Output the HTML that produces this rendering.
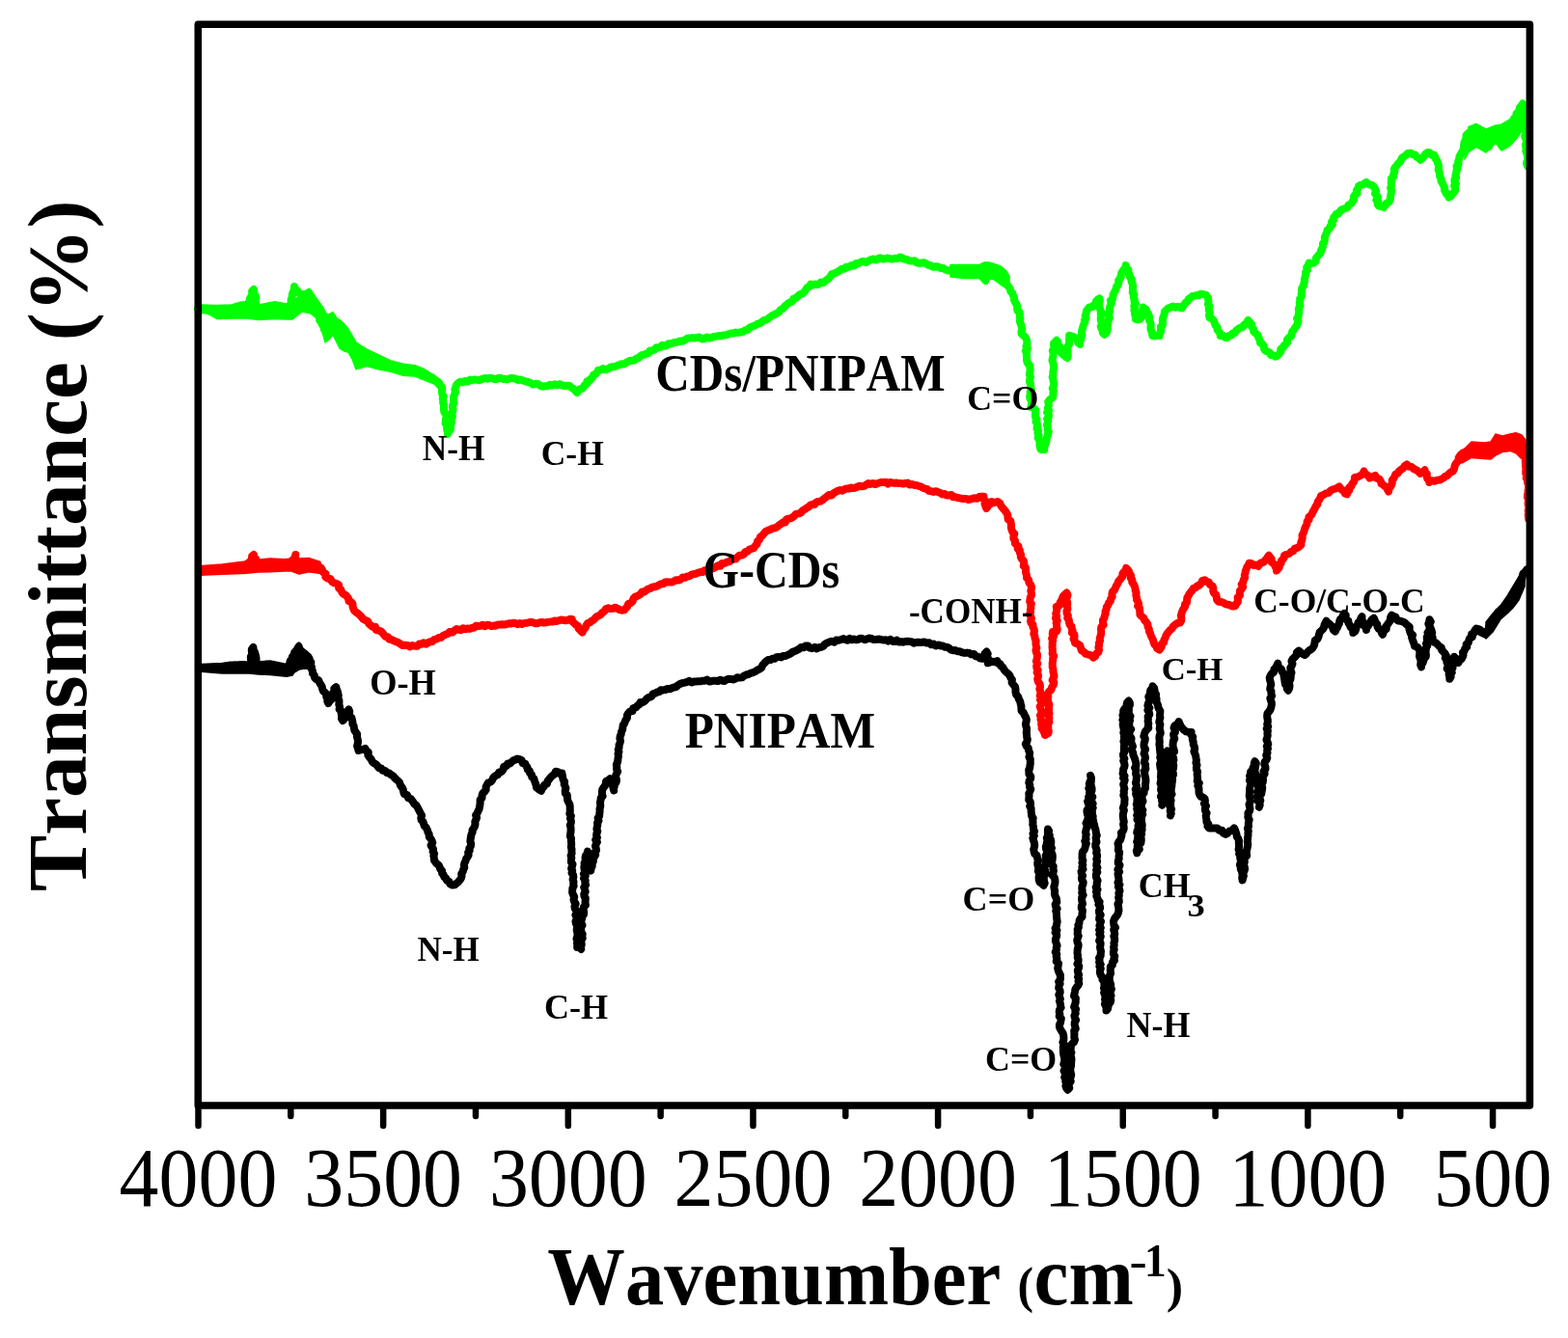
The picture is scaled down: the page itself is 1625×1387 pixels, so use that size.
<!DOCTYPE html>
<html><head><meta charset="utf-8"><title>FTIR spectra</title>
<style>html,body{margin:0;padding:0;background:#fff;} svg{display:block;}</style></head>
<body><svg width="1625" height="1387" viewBox="0 0 1625 1387">
<rect width="1625" height="1387" fill="#fff"/>

<path d="M985.0,274.5 L1000.0,274.4 L1015.0,274.4 L1020.0,272.0 L1025.0,272.0 L1030.0,273.4 L1037.0,276.0 L1042.0,280.0 L1046.0,286.0 L1046.0,300.0 L1042.0,298.0 L1037.0,295.0 L1030.0,289.6 L1026.0,289.0 L1023.0,294.5 L1020.0,294.0 L1015.0,288.6 L1000.0,288.6 L985.0,287.0 Z" fill="#00ff00" stroke="#00ff00" stroke-width="1.5" stroke-linejoin="round"/><path d="M328.0,314.0 L333.0,318.0 L337.0,325.0 L341.0,326.0 L345.0,323.6 L349.0,330.0 L352.0,331.6 L357.0,336.0 L361.0,341.2 L365.0,348.0 L369.0,354.8 L375.0,359.0 L380.0,362.0 L392.0,367.6 L405.0,374.0 L418.0,377.2 L430.0,378.8 L440.0,382.8 L450.0,389.2 L454.0,393.0 L454.0,402.0 L450.0,398.0 L440.0,394.0 L430.0,390.0 L418.0,389.2 L405.0,385.2 L392.0,382.8 L380.0,379.6 L375.0,381.0 L369.0,382.8 L365.0,372.0 L361.0,365.2 L357.0,364.0 L352.0,361.0 L349.0,355.0 L345.0,346.8 L341.0,352.0 L337.0,354.8 L333.0,340.0 L328.0,333.0 Z" fill="#00ff00" stroke="#00ff00" stroke-width="1.5" stroke-linejoin="round"/><path d="M207.0,316.0 L225.0,316.4 L240.0,316.0 L250.0,313.0 L256.0,313.0 L268.0,316.0 L285.0,312.7 L297.0,315.0 L303.0,313.0 L313.0,304.0 L322.0,302.5 L327.0,308.0 L335.0,319.0 L338.0,325.0 L338.0,333.0 L335.0,333.7 L327.0,329.0 L322.0,325.0 L313.0,323.0 L303.0,331.0 L297.0,331.0 L285.0,330.4 L268.0,331.5 L256.0,330.0 L250.0,330.0 L240.0,330.0 L225.0,330.5 L215.0,324.5 L207.0,324.5 Z" fill="#00ff00" stroke="#00ff00" stroke-width="1.5" stroke-linejoin="round"/><path d="M1518.0,150.0 L1522.0,131.5 L1530.0,128.3 L1540.0,134.0 L1550.0,130.0 L1556.0,129.0 L1565.0,123.7 L1572.0,114.7 L1578.0,103.6 L1578.0,134.0 L1572.0,143.0 L1565.0,151.0 L1556.0,156.0 L1550.0,148.0 L1540.0,158.0 L1530.0,152.3 L1522.0,157.5 L1518.0,165.0 Z" fill="#00ff00" stroke="#00ff00" stroke-width="1.5" stroke-linejoin="round"/><path d="M205.0,320.4 L207.6,320.2 L210.0,321.2 L212.5,321.2 L215.0,321.8 L217.4,322.7 L219.9,323.5 L222.8,323.1 L225.0,324.7 L227.3,323.2 L230.1,324.5 L232.4,322.7 L234.9,322.2 L237.7,323.4 L240.0,321.8 L242.5,321.5 L245.1,322.1 L247.5,321.1 L250.0,321.0 L252.2,319.6 L253.5,317.1 L256.0,316.0 L257.3,313.8 L258.7,311.8 L259.0,309.2 L260.5,307.1 L261.3,304.7 L261.1,301.9 L263.0,300.0 L262.8,302.3 L263.6,304.5 L264.6,306.7 L265.5,308.8 L264.1,311.4 L265.3,313.5 L265.2,315.8 L266.0,318.0 L267.3,321.0 L270.0,323.0 L272.2,322.2 L274.5,321.4 L275.9,319.2 L278.3,318.8 L280.0,317.0 L282.5,317.6 L284.7,319.4 L287.3,320.0 L290.0,320.0 L292.5,319.1 L295.0,319.2 L297.5,319.4 L300.0,320.0 L301.5,317.9 L300.9,315.4 L301.8,313.2 L301.6,310.7 L302.5,308.5 L302.8,306.1 L303.2,303.8 L304.2,301.6 L304.7,299.3 L305.0,297.0 L306.1,299.6 L308.2,301.3 L309.5,303.6 L312.0,305.0 L314.9,305.1 L317.6,304.7 L320.0,303.0 L320.7,305.3 L322.7,307.0 L322.3,309.8 L323.1,312.0 L324.2,314.1 L325.9,315.9 L327.0,318.0 L327.9,320.2 L330.0,321.7 L330.1,324.4 L332.0,326.0 L332.5,328.2 L333.7,330.1 L334.8,332.1 L333.8,334.7 L334.1,336.9 L336.6,338.5 L335.7,341.1 L337.0,343.0 L338.2,340.6 L339.0,338.0 L341.0,336.0 L342.7,334.1 L345.0,333.0 L345.8,335.6 L347.0,338.1 L349.0,340.0 L350.9,342.3 L350.8,345.4 L352.0,348.0 L354.7,347.5 L357.0,349.0 L358.7,350.9 L361.0,352.0 L362.6,353.8 L363.0,356.5 L365.0,358.0 L364.6,360.6 L366.3,362.7 L365.9,365.3 L368.1,367.2 L369.2,369.4 L369.0,372.0 L371.1,371.2 L372.5,369.1 L375.0,369.0 L377.6,368.8 L380.0,370.0 L382.5,370.8 L384.7,372.2 L387.5,372.3 L390.0,373.1 L392.0,375.0 L393.9,376.5 L396.5,376.1 L398.2,378.3 L400.4,378.9 L402.9,378.6 L405.0,379.6 L407.2,380.1 L409.3,380.8 L411.4,381.6 L413.6,382.1 L415.8,382.6 L418.0,383.0 L420.4,383.5 L422.7,384.5 L425.2,383.9 L427.6,384.0 L430.0,384.4 L432.3,385.9 L435.2,385.9 L437.7,387.0 L440.0,388.4 L441.5,390.4 L444.0,390.5 L446.0,391.6 L448.5,391.6 L450.0,393.6 L452.6,394.9 L455.0,396.5 L455.8,399.1 L458.0,401.1 L458.0,404.0 L458.0,406.3 L458.2,408.5 L459.7,410.6 L458.7,413.0 L459.3,415.2 L459.1,417.5 L460.1,419.7 L460.0,422.0 L460.0,424.6 L460.3,427.1 L462.2,429.4 L462.6,431.9 L462.0,434.6 L461.9,436.8 L461.6,439.1 L463.4,441.1 L463.2,443.4 L463.2,445.6 L464.1,447.7 L464.0,450.0 L465.2,447.3 L467.0,445.0 L466.8,442.7 L467.2,440.5 L467.9,438.3 L467.5,436.0 L467.9,433.8 L469.0,431.7 L467.6,429.3 L469.0,427.2 L469.6,425.0 L468.9,422.6 L468.9,420.4 L470.4,418.3 L470.0,416.0 L469.9,413.5 L470.2,411.0 L471.1,408.7 L472.1,406.4 L471.3,403.7 L472.2,401.4 L473.0,399.0 L474.8,397.1 L477.0,395.8 L479.7,396.2 L482.2,394.9 L484.9,395.5 L487.3,393.6 L490.0,394.0 L492.2,393.4 L494.5,393.9 L496.7,394.2 L498.9,393.1 L501.1,392.4 L503.3,392.0 L505.6,392.7 L507.7,391.7 L510.0,392.2 L512.3,392.9 L514.5,393.1 L516.8,391.7 L519.1,391.9 L521.3,393.1 L523.6,392.8 L525.9,393.3 L528.2,392.3 L530.5,391.9 L532.7,392.3 L535.0,392.8 L537.0,394.0 L539.4,393.5 L541.5,394.3 L543.6,395.0 L545.8,395.6 L547.9,396.2 L550.0,397.0 L552.2,398.6 L555.2,397.8 L557.8,398.2 L560.0,400.0 L562.6,400.7 L565.1,400.3 L567.6,400.2 L570.0,398.7 L572.6,399.6 L575.0,398.3 L577.4,399.5 L580.1,398.2 L582.4,399.5 L584.9,400.0 L587.5,399.8 L590.0,399.7 L592.0,401.6 L594.3,403.0 L596.2,404.9 L598.0,407.0 L599.4,405.0 L600.9,403.3 L603.4,402.6 L605.0,401.0 L606.1,398.9 L608.4,397.9 L608.5,395.1 L611.4,394.5 L612.5,392.4 L614.3,391.0 L615.0,388.6 L617.3,387.6 L618.9,386.0 L620.0,383.7 L622.5,383.6 L624.9,382.0 L627.6,383.3 L630.0,382.5 L632.2,380.9 L634.8,380.2 L637.6,380.1 L640.0,378.8 L642.2,378.1 L644.2,377.2 L646.7,377.6 L648.6,376.2 L650.6,374.9 L652.7,374.0 L655.0,373.8 L657.5,373.5 L659.3,371.7 L661.7,371.2 L663.4,369.3 L665.4,368.0 L667.9,367.6 L670.0,366.5 L672.4,365.9 L673.6,363.4 L676.3,363.3 L678.5,362.3 L680.0,360.3 L682.3,360.4 L684.5,359.9 L686.2,357.7 L688.6,358.5 L690.9,358.4 L692.6,356.2 L695.0,356.6 L697.0,355.5 L699.1,354.9 L701.4,354.8 L703.5,354.0 L705.7,353.5 L708.0,353.5 L710.0,352.3 L712.3,350.8 L714.8,350.4 L717.4,350.1 L720.0,350.5 L722.5,349.7 L725.0,349.6 L727.5,351.5 L730.0,351.3 L732.5,349.6 L735.0,350.5 L737.5,350.0 L739.9,349.1 L742.4,348.6 L744.9,348.1 L747.6,348.2 L750.0,347.4 L752.5,347.2 L755.0,346.3 L757.4,345.5 L759.9,345.4 L762.4,344.6 L765.0,345.0 L767.5,344.3 L770.1,343.9 L772.4,342.3 L775.0,341.8 L776.5,339.8 L778.6,338.8 L780.9,337.9 L783.1,337.1 L785.0,335.7 L787.8,335.1 L790.0,333.3 L792.0,331.9 L794.6,331.4 L796.6,329.9 L798.5,328.3 L800.6,327.0 L802.9,326.0 L805.0,324.8 L807.3,323.4 L808.9,321.2 L811.3,320.0 L812.9,317.9 L815.0,316.2 L816.7,314.3 L819.0,313.3 L821.3,312.1 L822.4,309.5 L825.0,308.8 L826.9,307.0 L828.9,305.2 L831.5,304.3 L833.6,302.6 L835.0,300.2 L836.5,298.1 L839.0,297.0 L840.0,294.6 L842.3,295.4 L844.7,294.5 L847.0,295.2 L849.0,294.2 L850.7,292.6 L853.3,293.1 L855.0,291.5 L857.0,289.9 L859.1,288.4 L860.7,286.5 L862.0,284.2 L864.2,283.6 L866.2,282.8 L868.1,281.6 L870.0,280.5 L872.2,278.8 L875.1,278.8 L877.1,276.7 L880.0,276.8 L882.2,275.1 L885.2,275.5 L887.1,273.0 L890.0,273.0 L892.3,271.5 L894.8,270.9 L897.7,272.0 L900.0,270.6 L902.3,269.3 L904.8,268.4 L907.7,269.5 L910.0,268.2 L912.4,267.2 L915.1,268.6 L917.5,268.1 L920.0,267.5 L922.5,268.2 L925.0,268.5 L927.5,267.7 L930.0,268.2 L932.5,266.5 L935.0,267.5 L937.3,268.8 L940.0,269.1 L942.4,270.3 L945.0,270.6 L947.7,270.2 L949.9,272.1 L952.3,273.0 L955.0,272.5 L957.8,272.3 L960.1,273.6 L962.5,274.9 L965.0,275.5 L967.3,276.8 L970.1,276.2 L972.7,276.7 L975.0,278.0 L977.6,278.1 L979.9,279.5 L982.4,280.4 L985.0,280.5 L987.5,280.8 L990.0,281.5 L992.5,281.4 L995.0,281.7 L997.5,281.8 L1000.0,282.3 L1002.5,281.9 L1004.9,281.0 L1007.5,281.7 L1010.0,281.5 L1012.9,282.0 L1015.3,280.3 L1018.0,280.0 L1018.2,282.7 L1020.2,284.8 L1019.8,287.6 L1021.0,290.0 L1022.5,287.5 L1023.4,284.8 L1024.0,282.0 L1026.0,283.0 L1028.0,283.8 L1030.0,284.8 L1031.9,286.1 L1033.6,287.6 L1036.3,287.1 L1038.4,288.0 L1040.0,289.8 L1041.0,292.1 L1042.0,294.3 L1044.2,295.8 L1045.7,297.7 L1047.0,299.8 L1047.4,302.2 L1049.3,304.0 L1050.0,306.2 L1051.0,308.4 L1051.0,310.9 L1052.0,313.0 L1053.2,315.0 L1054.2,317.1 L1054.1,319.7 L1054.4,322.0 L1056.6,323.7 L1057.0,326.0 L1056.7,328.3 L1057.5,330.4 L1056.8,332.7 L1057.5,334.9 L1058.4,337.1 L1058.7,339.3 L1059.3,341.5 L1058.5,343.8 L1058.6,346.0 L1060.6,347.8 L1062.7,349.5 L1064.0,352.0 L1064.3,354.3 L1064.4,356.7 L1063.4,359.0 L1064.8,361.3 L1062.9,363.7 L1064.0,366.0 L1063.8,368.3 L1064.1,370.7 L1064.0,373.0 L1064.5,375.4 L1065.7,377.4 L1067.5,379.0 L1067.4,381.3 L1067.7,383.7 L1067.2,386.0 L1066.9,388.4 L1068.0,390.7 L1067.3,393.0 L1066.9,395.4 L1068.0,397.7 L1068.0,400.0 L1068.6,402.2 L1068.7,404.4 L1067.6,406.6 L1067.8,408.8 L1067.2,411.0 L1067.5,413.2 L1068.8,415.4 L1069.0,417.6 L1068.9,419.8 L1068.4,422.0 L1071.2,422.9 L1073.2,425.0 L1073.0,427.4 L1072.9,429.9 L1073.0,432.3 L1074.6,434.6 L1073.5,437.1 L1074.9,439.4 L1074.9,441.8 L1074.5,444.2 L1076.1,446.5 L1075.4,449.0 L1076.7,451.3 L1075.6,454.0 L1077.2,456.2 L1077.5,458.7 L1077.5,461.2 L1077.8,463.6 L1078.6,466.0 L1082.4,466.0 L1081.9,463.4 L1083.1,461.2 L1083.9,459.0 L1084.6,456.7 L1084.5,454.2 L1085.7,452.0 L1085.9,449.8 L1086.8,447.6 L1085.6,445.3 L1085.9,443.1 L1085.0,440.9 L1085.4,438.7 L1086.3,436.5 L1085.1,434.2 L1086.8,432.0 L1086.9,429.8 L1085.2,427.6 L1087.0,425.4 L1085.8,423.2 L1086.7,420.9 L1086.7,418.7 L1086.2,416.5 L1088.3,413.9 L1091.0,412.0 L1091.4,409.7 L1091.4,407.3 L1091.8,405.0 L1090.7,402.7 L1091.8,400.3 L1092.3,398.0 L1091.7,395.7 L1091.5,393.3 L1090.6,391.0 L1091.5,388.7 L1091.2,386.3 L1091.6,384.0 L1092.0,381.4 L1091.8,378.8 L1091.4,376.2 L1090.4,373.6 L1091.0,371.0 L1091.5,368.5 L1091.6,366.0 L1090.8,363.5 L1092.5,361.1 L1092.2,358.5 L1092.0,356.0 L1095.0,352.8 L1096.6,354.7 L1095.8,357.5 L1098.2,359.1 L1098.7,361.5 L1098.7,364.0 L1100.0,366.0 L1101.9,367.8 L1104.1,369.4 L1106.2,371.0 L1106.7,368.7 L1106.5,366.4 L1106.4,364.0 L1106.3,361.7 L1106.3,359.3 L1107.9,357.1 L1108.2,354.8 L1107.9,352.4 L1108.5,350.2 L1108.2,347.8 L1110.7,348.5 L1113.1,349.3 L1115.3,350.8 L1116.8,352.7 L1117.3,355.4 L1119.3,357.0 L1118.7,354.5 L1120.1,352.4 L1119.9,350.0 L1121.4,347.9 L1120.9,345.5 L1121.2,343.2 L1121.7,341.0 L1122.3,338.7 L1123.0,336.4 L1124.2,334.3 L1123.9,331.8 L1125.6,329.8 L1124.7,327.1 L1125.6,324.9 L1125.9,322.5 L1127.4,320.5 L1128.9,318.5 L1131.7,318.3 L1133.4,316.5 L1135.3,315.1 L1135.9,312.5 L1137.5,310.7 L1139.5,309.4 L1139.8,311.6 L1139.3,313.9 L1139.2,316.2 L1139.5,318.4 L1140.0,320.6 L1141.1,322.8 L1140.7,325.0 L1141.3,327.2 L1140.7,329.5 L1140.8,331.8 L1141.7,334.0 L1141.8,336.2 L1140.7,338.5 L1141.5,340.7 L1143.4,342.3 L1142.9,345.1 L1144.5,346.8 L1146.3,345.2 L1147.4,343.2 L1147.6,340.7 L1147.6,338.4 L1148.2,336.2 L1148.4,334.0 L1148.8,331.8 L1149.8,329.6 L1149.3,327.3 L1148.7,324.9 L1150.2,322.8 L1149.6,320.5 L1150.1,318.3 L1151.0,316.2 L1151.8,314.2 L1150.8,311.6 L1153.0,309.9 L1153.4,307.6 L1153.6,305.4 L1154.6,303.4 L1155.7,301.4 L1156.6,299.3 L1157.1,297.0 L1158.7,295.3 L1159.4,293.1 L1159.1,290.6 L1160.7,288.8 L1161.7,286.7 L1161.9,284.3 L1162.7,282.2 L1164.2,279.9 L1166.2,278.0 L1166.7,275.1 L1166.9,277.9 L1169.5,279.8 L1169.2,282.9 L1170.8,285.2 L1171.0,287.4 L1172.8,289.3 L1172.6,291.7 L1173.4,293.8 L1174.2,295.9 L1173.8,298.3 L1174.1,300.8 L1173.7,303.3 L1175.4,305.6 L1174.6,308.2 L1175.8,310.5 L1175.5,312.8 L1176.8,314.9 L1175.3,317.2 L1176.0,319.4 L1175.4,321.7 L1176.0,323.9 L1176.1,326.2 L1177.0,328.3 L1176.8,330.6 L1179.3,331.3 L1181.9,330.6 L1183.3,328.4 L1183.7,325.9 L1183.3,323.3 L1184.5,321.0 L1184.4,318.5 L1188.0,321.0 L1188.6,323.2 L1190.0,325.2 L1190.8,327.3 L1191.3,329.6 L1191.0,332.0 L1192.1,334.1 L1192.7,336.4 L1192.5,338.9 L1192.5,341.2 L1193.3,343.4 L1194.1,345.7 L1194.4,348.0 L1196.8,348.3 L1199.2,347.6 L1201.6,348.0 L1202.0,345.7 L1203.1,343.6 L1202.9,341.1 L1202.9,338.8 L1204.9,336.8 L1205.0,334.5 L1204.8,332.0 L1205.2,329.8 L1206.1,327.6 L1206.7,325.3 L1207.0,323.0 L1208.9,321.1 L1210.9,319.4 L1213.4,318.4 L1216.0,317.6 L1218.1,318.7 L1220.7,317.7 L1222.8,318.9 L1225.0,319.4 L1226.0,317.2 L1227.5,315.4 L1228.9,313.5 L1230.8,312.1 L1231.9,309.9 L1234.0,308.6 L1235.8,307.0 L1238.0,306.6 L1240.2,306.1 L1242.5,306.2 L1244.3,304.7 L1246.7,305.0 L1249.9,305.9 L1252.0,308.6 L1252.2,310.8 L1252.5,313.1 L1251.9,315.4 L1253.5,317.5 L1252.8,319.8 L1253.0,322.1 L1253.9,324.3 L1253.0,326.6 L1253.6,329.4 L1256.5,330.8 L1258.2,332.9 L1259.0,335.6 L1260.0,337.6 L1261.6,339.4 L1261.6,341.9 L1263.1,343.7 L1264.5,345.6 L1264.7,348.0 L1267.4,347.7 L1269.4,349.8 L1272.0,350.0 L1273.5,348.2 L1276.0,347.6 L1277.4,345.6 L1279.8,345.0 L1281.0,342.8 L1283.1,341.1 L1285.4,339.8 L1288.0,339.0 L1289.0,336.9 L1291.3,335.9 L1292.3,333.9 L1293.5,332.0 L1295.2,334.1 L1297.0,336.0 L1297.3,339.0 L1299.0,341.0 L1299.1,343.5 L1300.8,345.2 L1303.0,346.7 L1303.9,348.8 L1304.8,350.9 L1305.7,353.0 L1306.0,355.4 L1308.2,356.6 L1309.6,358.4 L1309.9,361.0 L1310.9,363.1 L1313.0,364.4 L1315.6,365.2 L1317.0,368.0 L1319.8,368.4 L1322.0,369.8 L1324.0,368.4 L1325.7,366.8 L1327.2,365.0 L1327.2,361.9 L1329.5,360.8 L1330.4,358.5 L1332.3,356.8 L1334.2,355.1 L1333.9,352.1 L1335.5,350.3 L1337.9,348.9 L1338.5,346.4 L1339.2,343.7 L1341.0,341.8 L1342.3,339.5 L1344.0,337.4 L1344.7,335.1 L1345.5,332.8 L1344.1,330.3 L1345.6,328.1 L1345.8,325.7 L1346.3,323.4 L1345.8,321.0 L1346.3,318.8 L1347.5,316.7 L1346.7,314.2 L1347.2,312.0 L1347.2,309.6 L1348.8,307.6 L1348.6,305.2 L1349.0,303.0 L1349.0,300.6 L1349.3,298.3 L1351.0,296.4 L1351.2,294.1 L1352.0,291.9 L1351.8,289.4 L1352.5,287.2 L1353.0,285.0 L1353.0,282.3 L1354.9,280.1 L1354.2,277.2 L1355.8,275.0 L1356.6,272.5 L1359.3,273.1 L1362.0,272.5 L1363.7,270.5 L1363.9,267.5 L1365.6,265.5 L1367.4,263.5 L1368.8,261.6 L1369.1,259.3 L1370.3,257.3 L1371.1,255.2 L1370.9,252.7 L1372.5,250.9 L1372.9,248.6 L1372.8,246.2 L1373.6,244.1 L1374.6,242.0 L1375.5,238.8 L1378.0,236.5 L1378.7,234.3 L1380.8,232.7 L1380.0,229.9 L1381.9,228.2 L1381.9,225.7 L1383.6,224.0 L1384.8,221.8 L1387.4,221.3 L1388.6,219.2 L1390.2,217.4 L1392.6,216.7 L1396.5,215.0 L1397.5,212.5 L1400.0,211.2 L1401.5,209.1 L1403.0,207.0 L1402.8,204.3 L1404.1,202.1 L1406.5,200.3 L1405.8,197.5 L1407.3,195.4 L1408.0,193.0 L1409.9,191.8 L1412.3,191.6 L1414.1,190.2 L1416.0,189.0 L1417.7,190.8 L1420.0,191.6 L1422.4,192.2 L1424.0,194.0 L1425.2,196.0 L1426.0,198.1 L1425.0,200.7 L1427.0,202.5 L1427.8,204.7 L1426.3,207.4 L1428.5,209.2 L1427.6,211.7 L1429.0,213.7 L1431.7,213.5 L1434.0,215.0 L1435.6,213.0 L1436.8,210.6 L1439.5,209.5 L1440.6,207.0 L1441.0,204.6 L1441.3,202.2 L1441.7,199.8 L1442.1,197.4 L1441.1,194.9 L1441.9,192.5 L1441.7,190.1 L1442.0,187.7 L1441.8,185.1 L1444.0,183.1 L1444.2,180.6 L1445.3,178.4 L1444.7,175.6 L1446.0,173.4 L1447.6,171.5 L1448.9,169.5 L1450.9,167.9 L1452.0,165.7 L1453.1,163.4 L1455.3,162.1 L1457.2,160.7 L1459.0,159.0 L1461.7,158.6 L1464.0,160.1 L1466.6,160.5 L1468.0,162.6 L1470.3,163.8 L1472.0,165.7 L1474.1,164.0 L1475.9,162.0 L1477.2,159.5 L1479.5,158.0 L1481.8,158.5 L1483.4,160.7 L1486.0,160.5 L1487.2,162.5 L1487.8,164.7 L1489.4,166.6 L1489.9,168.9 L1490.9,171.0 L1491.0,173.4 L1490.6,176.0 L1491.7,178.3 L1491.9,180.7 L1492.2,183.1 L1493.6,185.3 L1493.5,187.9 L1495.0,190.0 L1495.9,192.1 L1497.0,194.1 L1496.9,196.7 L1498.0,198.7 L1498.8,200.8 L1500.7,202.5 L1501.6,204.6 L1503.8,203.3 L1504.9,201.0 L1506.8,199.4 L1508.1,197.3 L1508.2,195.1 L1507.1,192.7 L1508.8,190.7 L1507.4,188.3 L1507.5,186.0 L1509.1,184.0 L1508.4,181.7 L1509.2,179.5 L1509.4,177.3 L1510.3,175.0 L1509.5,172.3 L1511.6,170.2 L1511.1,167.6 L1512.0,165.3 L1512.4,162.8 L1513.3,160.5 L1515.0,158.1 L1516.3,155.5 L1517.0,152.7 L1517.2,150.2 L1517.5,147.7 L1518.6,145.4 L1519.5,143.1 L1519.4,140.5 L1521.0,138.4 L1524.0,139.7 L1526.0,142.3 L1527.8,140.0 L1529.1,137.3 L1530.0,134.5 L1530.4,137.0 L1531.6,139.0 L1533.1,140.8 L1535.0,142.3 L1536.8,144.1 L1538.8,145.7 L1540.1,147.9 L1541.5,150.0 L1543.0,152.0 L1543.8,149.7 L1544.5,147.4 L1544.8,145.0 L1546.6,143.0 L1546.1,140.3 L1547.2,138.1 L1548.0,135.8 L1550.6,137.2 L1553.5,137.0 L1553.5,139.4 L1555.2,141.2 L1556.0,143.3 L1555.5,145.9 L1557.8,147.5 L1557.4,150.0 L1557.5,147.5 L1559.1,145.5 L1559.9,143.3 L1560.0,140.7 L1560.6,138.4 L1561.7,136.3 L1563.7,134.5 L1564.0,132.0 L1565.2,129.7 L1567.4,127.9 L1568.3,125.4 L1569.0,122.8 L1571.5,121.3 L1571.5,117.8 L1574.0,116.3 L1574.4,113.8 L1575.0,111.4 L1576.9,109.5 L1578.0,107.3 L1578.6,109.5 L1579.4,111.6 L1578.5,114.0 L1579.7,116.1 L1579.5,118.4 L1579.8,120.6 L1578.8,122.9 L1579.9,125.1 L1580.5,127.2 L1581.1,129.4 L1580.5,131.7 L1580.3,134.0 L1580.4,136.2 L1581.0,138.4 L1580.2,140.7 L1580.6,142.9 L1582.0,145.1 L1582.3,147.3 L1581.1,149.6 L1581.2,151.9 L1581.9,154.1 L1581.3,156.4 L1582.1,158.6 L1582.8,160.8 L1583.2,163.0 L1583.7,165.2 L1582.4,167.5 L1582.0,169.8 L1583.0,172.0" fill="none" stroke="#00ff00" stroke-width="8.0" stroke-linejoin="round" stroke-linecap="round"/>
<path d="M207.0,586.7 L230.0,585.0 L250.0,582.4 L258.0,582.0 L268.0,580.0 L280.0,579.0 L295.0,579.8 L302.0,579.0 L310.0,579.0 L320.0,578.5 L332.0,582.4 L332.0,594.5 L320.0,592.7 L310.0,595.0 L302.0,592.0 L295.0,591.9 L280.0,592.7 L268.0,593.0 L258.0,594.0 L250.0,594.5 L230.0,595.3 L207.0,596.2 Z" fill="#ff0000" stroke="#ff0000" stroke-width="1.5" stroke-linejoin="round"/><path d="M1515.0,468.0 L1525.0,458.0 L1538.0,459.0 L1545.0,458.0 L1550.0,450.0 L1557.0,452.0 L1565.0,450.0 L1571.0,448.7 L1577.0,451.0 L1581.0,456.0 L1581.0,478.0 L1577.0,475.6 L1571.0,469.8 L1565.0,467.4 L1557.0,468.6 L1550.0,472.0 L1545.0,476.0 L1538.0,475.6 L1525.0,474.4 L1515.0,480.0 Z" fill="#ff0000" stroke="#ff0000" stroke-width="1.5" stroke-linejoin="round"/><path d="M206.8,591.4 L209.1,591.6 L211.3,591.7 L213.6,591.7 L215.8,592.0 L218.1,591.4 L220.3,590.8 L222.7,591.5 L224.7,589.3 L227.1,590.0 L229.4,590.8 L231.6,590.0 L233.9,590.3 L236.0,588.3 L238.3,588.9 L240.6,588.7 L242.8,587.8 L245.1,588.1 L247.4,587.9 L249.5,586.3 L251.8,586.4 L254.2,586.7 L255.8,584.5 L258.0,583.0 L260.0,581.5 L261.0,579.3 L261.1,576.6 L263.0,575.0 L263.0,577.4 L265.1,579.2 L264.7,581.7 L266.4,583.6 L266.3,586.0 L268.6,584.7 L271.3,586.3 L273.6,584.6 L276.0,584.3 L278.5,584.7 L280.8,585.8 L283.2,585.5 L285.5,584.2 L287.8,585.7 L290.1,584.8 L292.5,585.1 L294.8,584.7 L297.0,583.2 L299.9,583.8 L302.0,582.0 L303.8,579.9 L305.7,577.9 L306.3,575.0 L305.6,577.6 L307.1,580.0 L307.2,582.5 L307.8,584.9 L308.1,587.4 L307.5,590.0 L308.9,588.1 L311.1,587.4 L313.4,586.8 L314.6,584.6 L317.3,584.8 L319.0,583.3 L321.4,583.9 L323.7,584.7 L325.6,586.7 L328.1,586.9 L330.6,587.4 L332.7,588.7 L334.1,590.9 L335.0,593.3 L337.6,594.7 L337.3,598.0 L339.5,599.6 L342.4,600.0 L344.0,602.8 L346.3,604.3 L349.0,605.0 L351.2,606.6 L351.1,609.7 L353.3,611.3 L354.2,613.7 L355.7,615.8 L358.1,616.7 L359.6,618.4 L361.1,620.2 L361.5,623.1 L363.8,624.0 L365.5,625.9 L365.5,628.6 L366.2,630.9 L367.3,633.1 L369.2,634.8 L371.3,636.2 L373.2,637.8 L374.9,639.8 L376.4,641.8 L378.7,643.0 L381.2,643.9 L382.2,646.5 L384.1,648.1 L386.0,649.7 L389.0,649.8 L389.8,652.9 L392.3,653.7 L394.7,654.3 L396.4,656.1 L397.9,658.0 L399.5,659.9 L402.1,660.2 L403.3,662.6 L405.8,663.2 L407.9,664.2 L410.0,665.0 L412.5,666.0 L414.7,667.3 L416.8,669.0 L419.7,668.8 L422.4,669.0 L425.0,670.4 L427.2,669.1 L429.9,669.7 L432.4,669.8 L434.4,667.5 L437.0,667.7 L439.0,666.2 L441.7,667.7 L443.6,666.2 L445.8,665.3 L448.0,665.0 L449.9,663.2 L452.6,662.5 L454.7,661.0 L457.3,660.7 L459.3,658.9 L461.6,657.8 L464.0,657.0 L465.9,655.0 L469.1,655.5 L471.0,653.5 L473.1,652.1 L475.5,652.8 L477.9,653.2 L479.9,651.3 L482.3,652.3 L484.5,651.4 L486.9,651.9 L489.1,650.8 L491.4,650.7 L493.3,648.8 L495.7,649.0 L498.0,648.7 L500.2,647.8 L502.6,649.2 L504.7,647.8 L507.0,648.0 L509.3,649.1 L511.6,648.6 L513.9,648.7 L516.0,647.4 L518.3,647.4 L520.6,647.2 L522.8,647.6 L525.1,646.9 L527.3,646.3 L529.6,646.4 L531.8,645.7 L534.1,646.0 L536.4,647.2 L538.6,646.0 L540.9,646.9 L543.1,646.1 L545.4,645.8 L547.7,645.4 L549.9,644.8 L552.2,645.1 L554.5,646.2 L556.8,646.3 L559.0,645.4 L561.2,644.9 L563.5,645.6 L565.7,645.3 L567.9,644.9 L570.1,644.6 L572.4,644.6 L574.5,643.5 L576.8,644.0 L579.0,643.3 L581.3,642.6 L583.6,642.8 L586.0,643.2 L588.2,642.9 L590.5,641.8 L592.8,642.0 L593.3,644.4 L595.2,646.0 L596.7,647.7 L599.0,648.9 L599.5,651.4 L601.5,653.5 L603.6,655.5 L604.5,652.9 L606.6,650.9 L607.6,648.3 L609.0,646.0 L611.4,645.2 L613.2,643.6 L615.4,642.5 L617.0,640.6 L618.5,639.0 L620.7,638.2 L622.6,637.0 L624.0,635.2 L626.5,633.6 L628.0,631.0 L630.4,630.3 L632.9,631.1 L635.3,630.8 L637.6,629.7 L639.8,630.8 L642.0,632.1 L644.4,632.7 L647.0,632.4 L648.6,630.5 L650.2,628.6 L651.1,626.1 L653.9,625.1 L655.6,623.3 L656.4,620.7 L658.0,618.8 L660.1,618.0 L662.1,616.9 L664.0,615.8 L665.3,613.6 L667.9,613.5 L669.6,612.0 L671.4,610.7 L673.8,610.1 L675.9,608.7 L678.3,608.3 L680.7,607.7 L682.8,606.5 L685.0,605.3 L687.3,605.3 L689.3,603.4 L691.6,603.2 L694.0,603.4 L696.3,603.4 L698.5,602.6 L700.6,601.2 L703.3,601.4 L705.6,600.6 L707.5,598.6 L710.1,598.7 L712.3,597.4 L714.8,597.2 L716.8,595.6 L719.1,595.0 L721.4,594.7 L723.6,593.7 L725.8,593.1 L728.3,593.0 L730.2,591.2 L732.8,591.2 L735.0,590.1 L737.5,589.7 L739.7,588.8 L741.9,587.7 L743.9,586.3 L746.7,586.7 L748.2,584.0 L750.8,583.9 L753.0,582.7 L755.4,582.3 L757.6,581.0 L759.6,579.3 L762.5,579.6 L764.3,577.5 L766.3,575.7 L769.0,575.5 L771.1,574.3 L772.3,572.1 L774.8,571.5 L776.5,569.8 L778.7,568.9 L781.2,568.2 L782.5,566.0 L784.5,564.0 L785.0,561.2 L787.1,559.3 L787.9,556.6 L790.1,555.1 L791.8,553.0 L793.5,550.9 L796.0,549.8 L798.3,548.9 L800.6,547.7 L803.2,547.3 L805.5,546.2 L807.4,544.3 L809.5,543.0 L811.3,541.6 L813.8,541.5 L814.7,538.6 L816.8,537.7 L819.2,537.4 L821.2,536.4 L823.0,535.0 L824.8,532.9 L827.6,532.4 L830.1,531.5 L831.7,529.2 L834.0,528.0 L835.9,526.6 L838.0,525.5 L839.6,523.9 L841.6,522.9 L844.3,523.1 L845.5,520.9 L847.6,520.0 L850.4,519.6 L852.7,518.1 L854.8,516.2 L857.0,514.7 L859.0,513.1 L862.0,513.4 L863.8,511.3 L866.0,510.1 L868.2,508.8 L870.6,508.0 L873.0,508.7 L875.1,507.3 L877.2,506.5 L879.5,506.6 L881.6,505.5 L884.0,506.0 L886.3,505.7 L888.5,504.7 L890.7,503.8 L893.3,504.3 L895.6,503.8 L897.7,502.5 L899.8,501.1 L902.2,501.9 L904.4,501.0 L906.8,502.1 L909.0,501.4 L911.2,500.5 L913.5,499.9 L915.7,500.0 L918.0,499.7 L920.3,501.6 L922.5,500.0 L924.8,500.5 L927.0,500.8 L929.3,500.6 L931.5,501.1 L933.8,501.1 L936.0,501.5 L938.3,501.0 L940.7,500.6 L942.7,502.5 L945.2,502.0 L947.4,502.9 L949.7,503.0 L951.9,503.8 L954.3,504.3 L956.4,505.7 L958.7,506.5 L961.0,507.2 L962.9,508.9 L965.4,509.3 L967.6,509.9 L970.1,509.2 L972.3,510.1 L974.5,511.0 L976.6,512.4 L979.0,512.0 L981.0,513.5 L983.5,513.4 L986.1,513.0 L987.8,515.3 L990.3,515.2 L992.5,516.0 L994.7,516.4 L997.0,516.9 L999.2,517.0 L1001.5,516.9 L1003.7,518.1 L1006.0,517.4 L1008.2,516.7 L1010.5,516.3 L1012.9,516.8 L1014.9,514.9 L1017.2,514.7 L1019.5,514.7 L1019.4,517.3 L1021.6,519.4 L1020.5,522.2 L1021.3,524.6 L1022.3,527.0 L1023.5,525.2 L1024.6,523.2 L1026.8,522.1 L1027.7,520.0 L1030.8,520.9 L1034.0,520.0 L1036.2,521.5 L1037.2,524.0 L1038.7,526.1 L1040.4,528.0 L1042.0,530.0 L1043.2,531.9 L1044.4,533.8 L1044.4,536.2 L1044.8,538.5 L1047.2,539.9 L1047.7,542.1 L1048.0,544.4 L1047.9,546.9 L1048.5,549.2 L1049.4,551.4 L1051.3,553.3 L1050.4,556.0 L1050.4,558.5 L1052.0,560.5 L1051.8,563.0 L1053.3,564.7 L1055.5,566.2 L1054.7,568.9 L1056.9,570.4 L1056.8,572.8 L1058.0,574.7 L1057.8,577.3 L1059.0,579.4 L1060.9,581.4 L1061.3,583.8 L1060.7,586.5 L1063.0,588.3 L1063.0,590.8 L1063.1,593.6 L1063.9,596.2 L1064.0,599.0 L1066.0,601.0 L1066.4,603.8 L1068.0,606.0 L1069.0,608.2 L1068.9,610.4 L1068.3,612.6 L1068.9,614.8 L1069.0,617.0 L1067.8,619.2 L1067.5,621.4 L1067.2,623.6 L1068.8,625.9 L1068.2,628.1 L1068.4,630.3 L1067.8,632.5 L1068.0,634.7 L1067.0,636.9 L1068.3,639.1 L1069.0,641.3 L1068.0,643.5 L1068.5,645.8 L1070.5,647.5 L1070.4,650.0 L1071.6,652.0 L1071.9,654.5 L1071.3,657.1 L1072.4,659.5 L1072.6,662.0 L1073.7,664.4 L1073.4,666.9 L1073.8,669.4 L1074.4,671.7 L1073.4,674.0 L1074.0,676.3 L1075.0,678.6 L1074.9,680.9 L1074.6,683.2 L1073.9,685.6 L1075.3,687.8 L1074.2,690.2 L1074.4,692.5 L1075.7,694.7 L1074.6,697.1 L1075.9,699.4 L1075.9,701.7 L1075.2,704.0 L1075.9,706.7 L1077.6,709.1 L1078.0,712.0 L1077.3,714.3 L1078.2,716.5 L1078.6,718.8 L1077.7,721.1 L1079.4,723.3 L1078.0,725.6 L1079.5,727.8 L1079.4,730.1 L1077.7,732.4 L1078.4,734.6 L1079.5,736.9 L1079.8,739.1 L1078.0,741.5 L1078.7,743.7 L1078.5,746.0 L1080.1,748.2 L1079.1,750.5 L1079.7,752.7 L1079.5,755.0 L1081.2,757.1 L1082.2,759.5 L1083.0,762.0 L1086.5,760.0 L1086.8,757.7 L1086.2,755.5 L1086.3,753.2 L1085.8,750.9 L1087.4,748.7 L1087.0,746.4 L1087.4,744.2 L1086.6,741.9 L1087.5,739.6 L1086.8,737.4 L1087.0,735.1 L1087.0,732.8 L1087.4,730.6 L1086.6,728.3 L1086.0,726.0 L1085.9,723.8 L1086.3,721.5 L1086.0,719.3 L1087.0,717.0 L1089.3,715.1 L1090.2,712.2 L1091.8,709.8 L1092.3,707.5 L1090.6,705.2 L1091.6,703.0 L1092.5,700.7 L1091.9,698.4 L1091.4,696.1 L1091.5,693.8 L1090.7,691.5 L1090.7,689.3 L1090.7,687.0 L1091.2,684.7 L1091.1,682.4 L1092.2,680.1 L1090.6,677.8 L1090.8,675.6 L1090.8,673.3 L1090.5,671.0 L1090.7,668.7 L1090.6,666.4 L1091.1,664.1 L1090.1,661.9 L1092.0,659.6 L1090.7,657.3 L1091.0,655.0 L1094.7,655.0 L1095.7,652.6 L1095.1,650.3 L1095.1,647.9 L1094.6,645.5 L1095.7,643.2 L1093.9,640.8 L1095.1,638.5 L1094.2,636.1 L1095.1,633.7 L1095.2,631.4 L1094.7,629.0 L1098.3,627.6 L1098.7,624.4 L1100.4,621.8 L1101.1,619.6 L1102.1,617.6 L1103.7,616.1 L1105.5,614.6 L1106.5,616.9 L1105.8,619.3 L1104.6,621.7 L1106.1,624.0 L1106.2,626.4 L1106.0,628.8 L1106.4,631.1 L1105.5,633.5 L1105.6,635.9 L1106.9,638.2 L1106.2,640.6 L1107.8,642.5 L1108.0,645.1 L1108.6,647.5 L1110.5,649.2 L1110.6,651.4 L1111.5,653.5 L1110.8,655.9 L1113.3,657.6 L1113.6,659.8 L1112.5,662.3 L1113.8,664.3 L1114.0,666.5 L1116.8,667.5 L1119.2,668.9 L1120.0,671.6 L1120.8,674.2 L1123.2,675.6 L1124.9,677.6 L1127.1,678.3 L1129.3,678.8 L1131.4,679.8 L1133.0,681.6 L1135.2,680.1 L1136.0,677.6 L1138.3,676.2 L1139.0,673.6 L1138.4,671.1 L1139.1,668.8 L1139.0,666.4 L1140.1,664.1 L1139.7,661.7 L1140.5,659.4 L1141.1,657.1 L1141.2,654.7 L1141.0,652.2 L1141.3,649.9 L1143.7,647.8 L1143.0,645.3 L1143.0,642.8 L1144.4,640.8 L1144.8,638.5 L1145.7,636.3 L1145.5,633.8 L1146.6,631.7 L1146.8,629.3 L1148.4,627.3 L1149.0,625.0 L1150.8,623.1 L1151.2,620.6 L1152.7,618.6 L1152.4,615.7 L1153.0,613.3 L1155.1,611.5 L1156.0,609.2 L1157.0,607.0 L1158.3,605.1 L1159.0,602.8 L1160.6,601.1 L1162.0,599.2 L1163.5,597.3 L1163.4,594.7 L1164.8,592.8 L1166.7,591.2 L1167.2,588.8 L1168.8,590.6 L1170.0,592.5 L1170.6,594.7 L1172.1,596.5 L1171.7,599.2 L1173.3,601.0 L1173.2,603.5 L1174.8,605.5 L1175.8,607.7 L1176.5,609.9 L1176.7,612.3 L1177.6,614.5 L1177.3,617.0 L1177.9,619.2 L1178.0,621.5 L1179.2,623.6 L1180.1,625.8 L1179.1,628.3 L1181.0,630.3 L1181.1,632.6 L1181.4,634.9 L1181.4,637.2 L1183.2,639.0 L1185.3,640.7 L1186.3,643.2 L1188.1,645.0 L1189.4,647.3 L1189.6,649.8 L1190.8,651.9 L1190.9,654.4 L1192.1,656.5 L1192.7,658.9 L1193.8,661.0 L1194.9,663.2 L1195.5,665.5 L1196.4,667.9 L1198.2,669.8 L1199.2,672.2 L1201.5,673.6 L1203.0,671.8 L1203.9,669.8 L1204.1,667.3 L1206.2,665.8 L1206.4,663.4 L1207.6,661.5 L1208.3,659.0 L1209.5,656.9 L1211.0,655.0 L1212.6,653.1 L1214.7,651.5 L1215.7,649.3 L1217.9,647.6 L1220.1,646.0 L1223.0,645.6 L1224.2,643.4 L1224.4,640.9 L1223.9,638.2 L1224.5,635.8 L1225.3,633.5 L1226.4,631.2 L1228.1,629.1 L1228.0,626.5 L1229.9,624.7 L1230.1,622.2 L1230.3,619.6 L1231.6,617.6 L1232.7,615.4 L1234.1,613.6 L1235.6,612.0 L1236.7,609.9 L1239.2,609.2 L1240.6,607.5 L1243.0,606.5 L1244.9,604.7 L1246.0,602.1 L1248.5,601.2 L1250.5,602.8 L1252.9,603.8 L1254.2,606.3 L1256.5,607.5 L1257.4,609.8 L1257.2,612.6 L1258.2,614.9 L1260.4,616.8 L1260.8,619.3 L1261.2,621.8 L1263.2,623.8 L1266.0,624.1 L1268.5,625.2 L1270.8,626.5 L1273.2,626.7 L1275.5,627.8 L1277.8,628.6 L1280.3,628.0 L1281.2,625.9 L1282.8,624.0 L1282.9,621.6 L1282.6,619.1 L1284.9,617.4 L1284.9,615.0 L1284.9,612.5 L1286.6,610.7 L1288.2,608.5 L1286.7,605.7 L1288.4,603.6 L1288.7,601.2 L1290.1,599.0 L1289.8,596.4 L1290.4,594.2 L1290.8,591.9 L1291.7,589.9 L1292.3,587.7 L1293.8,585.9 L1294.5,583.7 L1297.0,584.2 L1299.1,585.9 L1301.8,585.6 L1304.0,587.0 L1305.3,585.2 L1306.7,583.4 L1309.5,582.9 L1310.8,581.1 L1312.4,579.5 L1313.6,577.6 L1315.0,575.8 L1316.2,577.7 L1317.7,579.4 L1317.3,582.1 L1319.0,583.7 L1320.9,585.2 L1321.6,587.3 L1322.8,589.2 L1323.0,591.6 L1324.4,589.8 L1325.8,588.0 L1325.4,585.4 L1327.6,584.0 L1327.7,581.6 L1329.4,579.9 L1330.7,578.1 L1331.0,575.8 L1333.5,574.8 L1336.0,574.0 L1338.0,572.0 L1340.5,571.0 L1341.8,568.6 L1344.5,567.9 L1346.6,566.4 L1348.5,564.7 L1348.3,562.2 L1349.3,559.9 L1349.7,557.5 L1349.5,554.9 L1350.7,552.7 L1351.6,550.4 L1352.2,547.9 L1353.2,545.6 L1354.4,543.3 L1354.6,540.7 L1356.6,538.7 L1356.4,536.0 L1358.2,534.5 L1359.7,532.8 L1360.5,530.6 L1361.8,528.7 L1362.7,526.6 L1363.8,524.5 L1365.4,522.7 L1365.6,520.2 L1367.1,518.3 L1368.3,516.3 L1369.0,514.0 L1371.7,513.0 L1374.2,511.4 L1377.0,510.8 L1378.7,508.7 L1380.9,507.5 L1383.4,506.7 L1385.9,505.8 L1388.0,504.4 L1389.2,506.4 L1390.9,507.9 L1393.1,508.8 L1393.7,511.4 L1396.0,512.3 L1396.5,509.9 L1398.4,508.2 L1398.1,505.4 L1400.5,503.9 L1401.3,501.6 L1402.9,499.7 L1403.8,497.5 L1404.0,495.0 L1407.1,494.4 L1410.0,493.0 L1412.3,491.2 L1413.5,488.5 L1414.6,490.6 L1416.3,492.2 L1418.4,493.3 L1419.4,495.5 L1422.3,494.3 L1425.2,493.0 L1426.5,495.6 L1429.5,496.6 L1431.0,499.0 L1431.5,501.4 L1433.6,502.6 L1435.2,504.1 L1437.2,505.3 L1437.9,507.6 L1439.0,509.5 L1439.1,506.9 L1440.8,504.9 L1442.1,502.7 L1442.8,500.4 L1442.7,497.8 L1444.3,496.1 L1445.3,493.9 L1446.3,491.7 L1448.7,490.6 L1449.8,488.5 L1451.9,486.8 L1454.2,485.3 L1455.8,483.0 L1458.0,481.4 L1459.9,483.6 L1463.0,483.9 L1465.0,486.0 L1467.6,487.2 L1470.0,488.8 L1472.0,490.8 L1474.5,489.3 L1476.6,487.3 L1476.6,489.7 L1478.9,491.3 L1478.7,493.8 L1479.2,496.0 L1481.1,497.7 L1481.3,500.0 L1483.8,498.3 L1486.8,498.7 L1489.5,497.8 L1491.9,497.5 L1494.0,496.6 L1496.0,495.4 L1497.8,493.8 L1500.0,493.0 L1501.6,491.1 L1503.5,489.5 L1505.9,488.4 L1507.0,486.0 L1507.5,483.5 L1508.4,481.2 L1510.0,479.1 L1511.7,477.1 L1511.7,474.4 L1513.0,472.4 L1514.5,470.7 L1516.4,469.4 L1518.7,468.6 L1521.1,467.2 L1523.5,465.7 L1525.7,464.0 L1528.1,465.0 L1530.1,466.5 L1531.6,468.6 L1534.0,467.6 L1536.4,466.5 L1538.6,465.0 L1540.7,466.9 L1543.0,468.6 L1545.6,469.8 L1545.5,467.3 L1547.1,465.5 L1548.6,463.7 L1549.7,461.6 L1549.1,459.0 L1550.3,457.0 L1552.3,458.8 L1554.8,459.6 L1557.3,460.4 L1559.8,460.0 L1561.1,457.5 L1563.7,457.3 L1565.5,455.7 L1568.6,455.8 L1571.3,454.5 L1573.3,456.0 L1575.8,456.9 L1577.2,459.2 L1578.7,461.3 L1579.7,463.6 L1580.7,465.9 L1580.7,468.6 L1581.6,470.8 L1580.8,473.1 L1582.1,475.3 L1580.8,477.6 L1581.0,479.9 L1581.0,482.1 L1581.2,484.3 L1581.5,486.6 L1581.2,488.9 L1581.3,491.1 L1582.2,493.3 L1581.7,495.6 L1583.7,497.7 L1583.0,500.0 L1583.9,502.2 L1584.1,504.4 L1583.9,506.7 L1583.6,508.9 L1583.4,511.2 L1583.0,513.4 L1583.0,515.7 L1584.5,517.9 L1583.8,520.1 L1583.6,522.4 L1584.1,524.6 L1584.7,526.8 L1583.7,529.1 L1584.3,531.3 L1583.7,533.5 L1584.1,535.8 L1584.2,538.0" fill="none" stroke="#ff0000" stroke-width="8.0" stroke-linejoin="round" stroke-linecap="round"/>
<path d="M1540.0,645.0 L1547.0,636.0 L1555.0,628.0 L1562.0,618.0 L1568.0,608.0 L1574.0,598.0 L1580.0,588.0 L1580.0,608.0 L1574.0,622.0 L1568.0,630.0 L1562.0,636.0 L1555.0,642.0 L1547.0,655.0 L1540.0,662.0 Z" fill="#000" stroke="#000" stroke-width="1.5" stroke-linejoin="round"/><path d="M209.0,688.4 L230.0,687.6 L250.0,685.8 L258.0,686.0 L268.0,686.0 L280.0,685.0 L297.0,688.4 L303.0,683.0 L306.0,670.0 L310.0,666.0 L314.0,672.0 L318.0,675.0 L322.0,679.0 L325.0,686.0 L325.0,699.0 L322.0,694.0 L316.0,693.0 L310.0,694.0 L305.0,697.0 L303.0,700.0 L297.0,701.3 L280.0,699.6 L268.0,699.0 L258.0,698.0 L250.0,697.9 L230.0,697.9 L209.0,696.2 Z" fill="#000" stroke="#000" stroke-width="1.5" stroke-linejoin="round"/><path d="M209.5,692.8 L212.0,692.4 L214.5,692.0 L217.0,693.1 L219.5,691.9 L222.0,692.9 L224.5,692.5 L227.0,692.8 L229.1,691.4 L231.5,691.9 L233.6,690.4 L236.0,690.8 L238.1,689.5 L240.6,690.0 L243.1,689.4 L245.5,690.4 L247.8,691.6 L250.5,690.3 L252.8,691.4 L255.5,690.1 L258.5,690.0 L259.2,687.7 L260.3,685.5 L259.9,683.0 L259.9,680.6 L261.6,678.5 L261.0,676.0 L260.8,673.2 L262.5,671.0 L262.5,673.7 L264.0,676.0 L264.7,678.5 L265.3,680.9 L265.6,683.4 L265.4,686.0 L264.6,688.6 L265.5,691.0 L267.9,689.7 L270.7,690.0 L273.3,689.6 L275.8,688.7 L278.1,689.3 L280.1,690.4 L282.7,690.3 L284.9,691.1 L286.7,692.8 L289.5,692.5 L292.1,693.8 L294.8,693.5 L297.5,694.0 L298.0,691.6 L299.5,689.6 L300.2,687.3 L300.8,684.9 L302.7,683.1 L303.0,680.6 L304.7,678.7 L305.2,676.1 L307.2,674.3 L308.4,672.1 L309.7,670.0 L309.7,672.4 L310.7,674.4 L312.4,676.1 L311.7,678.8 L314.3,680.2 L314.4,682.5 L315.0,684.7 L317.4,683.0 L319.0,680.6 L320.5,682.5 L320.6,684.9 L322.4,686.7 L321.9,689.4 L323.0,691.4 L323.0,693.7 L324.0,695.8 L324.0,698.2 L325.8,700.0 L326.0,702.3 L327.8,704.1 L330.1,705.1 L331.1,707.4 L332.3,709.5 L333.7,711.6 L334.1,714.1 L335.0,716.4 L337.1,718.1 L338.2,720.3 L338.3,722.6 L340.1,724.4 L339.3,726.9 L340.2,729.0 L341.5,727.0 L343.2,725.3 L343.9,723.0 L343.8,720.4 L345.0,718.4 L346.6,716.6 L346.3,713.8 L348.3,712.2 L348.8,714.5 L349.8,716.6 L350.3,718.9 L350.8,721.1 L349.6,723.7 L351.4,725.7 L351.5,728.0 L351.3,730.4 L352.1,732.7 L351.6,735.3 L353.9,737.3 L353.7,739.9 L354.1,742.3 L353.9,744.8 L355.3,747.0 L357.1,745.0 L358.4,742.7 L358.5,739.8 L360.0,737.6 L361.4,735.4 L362.3,737.5 L361.7,740.0 L362.1,742.2 L364.4,743.9 L364.9,746.1 L365.4,748.3 L365.4,750.6 L366.7,752.6 L366.9,754.9 L367.4,757.1 L368.8,759.1 L370.1,761.0 L369.9,763.5 L370.5,765.7 L371.0,768.1 L370.8,770.6 L370.1,773.2 L370.9,775.6 L371.5,778.0 L373.8,777.3 L376.2,776.8 L378.5,775.8 L379.4,778.2 L381.8,779.8 L381.4,782.9 L382.8,785.0 L384.6,786.9 L385.6,789.3 L387.4,791.0 L389.6,792.2 L391.2,794.0 L392.7,796.0 L395.2,796.5 L396.5,798.8 L399.2,798.9 L400.7,801.0 L403.2,801.5 L405.1,803.0 L407.2,804.2 L408.8,806.1 L410.6,807.9 L412.6,809.5 L414.2,811.4 L414.9,814.1 L416.6,816.1 L417.7,818.3 L418.2,820.8 L418.9,823.2 L421.9,824.1 L423.2,827.3 L426.0,828.3 L428.2,831.3 L429.3,833.4 L431.5,834.9 L432.7,837.0 L433.8,839.1 L434.9,841.3 L435.9,843.3 L437.1,845.3 L436.3,847.9 L436.7,850.2 L438.5,851.9 L439.1,854.1 L439.8,856.2 L441.7,858.0 L442.8,860.2 L443.5,862.7 L444.7,864.8 L444.7,867.6 L446.5,869.5 L447.6,871.6 L448.3,873.8 L446.6,876.3 L447.9,878.4 L449.1,880.4 L448.6,882.8 L450.1,884.8 L449.4,887.2 L449.8,889.4 L450.0,891.9 L451.3,893.7 L452.7,895.4 L454.7,896.9 L455.6,898.9 L456.4,901.0 L458.1,902.6 L458.1,905.2 L459.6,906.8 L460.3,909.0 L462.2,910.5 L463.0,912.6 L465.4,913.8 L466.5,916.4 L468.9,917.5 L471.3,917.2 L473.0,915.7 L474.8,914.4 L476.3,912.6 L477.8,910.6 L478.5,908.4 L478.2,905.7 L479.7,903.7 L480.2,901.4 L481.3,899.3 L480.9,896.8 L481.4,894.6 L482.5,892.5 L483.0,890.3 L484.5,888.3 L485.6,886.3 L485.1,883.8 L486.7,881.8 L486.3,879.4 L487.8,877.2 L488.2,874.9 L487.4,872.2 L487.6,869.8 L488.1,867.4 L488.5,865.0 L489.6,862.8 L489.5,860.4 L491.0,858.5 L492.1,856.4 L492.5,854.2 L492.3,851.8 L493.2,849.7 L494.1,847.6 L493.1,845.0 L494.5,843.0 L495.5,840.8 L496.6,838.7 L497.0,836.3 L497.5,834.0 L497.6,831.5 L497.6,829.1 L499.5,827.2 L499.5,824.7 L500.3,822.3 L502.3,820.6 L503.7,818.5 L503.6,815.7 L504.7,813.5 L506.0,811.4 L508.6,810.5 L510.3,808.4 L511.5,805.8 L513.5,804.1 L516.0,803.0 L517.1,800.6 L520.0,799.8 L521.5,797.7 L522.1,794.9 L524.9,794.0 L526.0,791.6 L528.5,791.5 L530.2,789.9 L531.9,788.3 L534.0,787.7 L536.0,786.6 L538.5,787.2 L540.7,788.2 L541.7,791.2 L544.3,791.6 L545.1,793.7 L546.5,795.4 L546.8,797.8 L548.9,799.1 L549.2,801.5 L551.0,803.0 L551.2,805.5 L553.3,807.2 L554.0,809.5 L554.8,811.8 L555.7,814.0 L556.0,816.4 L558.3,818.2 L560.9,819.7 L561.8,817.4 L563.5,815.7 L564.3,813.4 L567.0,812.4 L567.4,809.8 L569.0,808.0 L570.6,805.9 L572.5,804.0 L574.8,802.4 L575.8,799.8 L578.0,800.2 L580.0,801.8 L582.4,801.5 L582.8,803.8 L583.2,806.1 L583.6,808.3 L585.1,810.4 L584.6,812.9 L585.6,815.0 L586.4,817.2 L585.7,819.7 L585.8,822.3 L587.8,824.2 L587.9,826.8 L588.1,829.3 L589.2,831.6 L590.4,833.8 L590.7,836.3 L590.7,838.7 L590.8,841.1 L590.3,843.5 L591.9,845.9 L591.0,848.3 L591.8,850.7 L591.8,853.1 L590.8,855.5 L591.5,857.9 L591.6,860.1 L591.5,862.4 L591.2,864.6 L590.9,866.9 L592.0,869.1 L591.8,871.3 L592.1,873.5 L592.2,875.8 L591.8,878.0 L592.5,880.2 L592.4,882.5 L592.6,884.7 L591.6,887.0 L592.3,889.2 L591.9,891.5 L591.9,893.7 L593.5,895.9 L592.9,898.1 L592.1,900.4 L593.2,902.6 L592.5,904.9 L594.1,907.1 L594.3,909.4 L593.6,911.7 L594.5,913.9 L594.2,916.2 L594.6,918.4 L593.4,920.7 L593.2,923.0 L593.1,925.3 L594.0,927.5 L595.2,929.7 L594.5,932.3 L595.1,934.6 L596.7,936.8 L595.5,939.5 L595.8,941.8 L597.3,944.0 L598.0,946.2 L596.4,948.5 L597.7,950.7 L597.5,952.9 L596.5,955.2 L596.9,957.4 L598.4,959.6 L597.9,961.9 L597.7,964.1 L598.2,966.3 L598.6,968.6 L598.3,970.8 L597.5,973.1 L599.1,975.3 L598.0,977.5 L598.3,979.8 L598.2,982.0 L600.7,982.0 L602.3,983.9 L602.0,981.6 L602.7,979.4 L602.5,977.2 L601.6,974.9 L603.7,972.7 L603.3,970.4 L603.7,968.2 L601.9,965.9 L602.3,963.6 L601.9,961.4 L603.5,959.2 L602.5,956.9 L602.2,954.6 L603.1,952.4 L603.4,950.0 L605.0,947.8 L605.2,945.4 L604.5,942.8 L604.8,940.4 L606.9,938.4 L606.5,935.8 L606.6,933.5 L606.8,931.2 L605.4,928.9 L605.3,926.6 L606.7,924.3 L606.0,922.0 L605.2,919.7 L607.1,917.3 L606.3,915.0 L606.7,912.7 L605.0,910.5 L606.7,908.1 L604.9,905.8 L606.6,903.5 L605.6,901.2 L605.3,898.9 L605.8,896.6 L605.6,894.3 L607.2,892.2 L606.5,889.5 L606.9,887.1 L608.4,885.0 L609.0,882.7 L609.9,884.8 L610.6,887.0 L610.8,889.2 L611.4,891.4 L611.5,893.6 L611.6,895.9 L612.0,898.1 L611.4,900.5 L612.3,902.6 L612.6,900.1 L613.7,897.9 L613.7,895.3 L614.8,893.0 L614.8,890.4 L616.0,888.2 L617.2,886.0 L616.3,883.7 L618.0,881.6 L617.7,879.4 L617.0,877.1 L617.7,875.0 L618.9,872.8 L617.2,870.5 L618.9,868.4 L618.1,866.1 L618.4,863.9 L619.3,861.8 L618.4,859.5 L618.8,857.3 L619.3,855.1 L619.0,852.9 L620.5,850.7 L619.6,848.1 L621.1,845.9 L621.3,843.5 L621.6,841.1 L621.5,838.6 L622.2,836.3 L622.2,834.0 L622.0,831.7 L622.5,829.5 L622.7,827.3 L624.6,825.3 L623.9,822.9 L624.0,820.7 L624.2,818.5 L625.5,816.4 L627.0,814.5 L627.9,812.4 L628.0,810.0 L630.3,809.0 L632.2,807.3 L633.5,809.6 L634.3,812.0 L635.0,814.5 L635.5,817.0 L636.2,819.5 L635.8,817.2 L636.8,815.1 L636.7,812.8 L638.6,810.9 L639.0,808.7 L638.4,806.3 L638.1,804.0 L639.0,801.9 L640.2,799.7 L639.0,797.3 L639.3,795.1 L638.8,792.7 L639.8,790.5 L640.3,788.3 L640.5,786.0 L640.9,783.8 L640.5,781.4 L641.5,779.3 L640.7,776.9 L641.6,774.7 L641.5,772.4 L642.5,770.2 L643.0,768.0 L642.4,765.5 L642.7,763.2 L643.7,761.0 L644.0,758.6 L645.1,756.5 L645.4,754.1 L645.7,751.8 L647.1,750.0 L647.8,747.9 L648.8,745.9 L650.0,744.0 L649.9,741.5 L651.0,739.6 L652.7,737.7 L655.5,737.1 L656.3,734.1 L659.0,733.4 L660.6,731.4 L662.6,730.3 L663.6,727.9 L666.4,727.9 L668.3,726.7 L669.8,724.9 L671.4,723.3 L673.6,722.6 L675.6,721.6 L676.8,719.1 L679.2,718.7 L681.1,717.5 L683.4,717.0 L685.0,715.2 L687.4,715.4 L689.6,715.0 L691.8,714.0 L694.2,714.2 L696.3,713.3 L698.5,712.5 L700.9,712.0 L702.8,710.1 L704.9,708.8 L707.2,708.1 L709.6,707.6 L712.0,707.0 L714.3,705.9 L716.7,707.4 L719.0,706.6 L721.3,706.5 L723.7,706.3 L726.0,706.3 L728.3,705.7 L730.6,705.7 L732.8,704.6 L735.1,706.4 L737.3,706.2 L739.6,705.7 L741.8,705.8 L744.1,706.1 L746.3,704.7 L748.6,705.7 L750.9,705.9 L753.0,704.5 L755.2,703.8 L757.5,703.9 L759.8,704.5 L762.0,703.7 L764.1,702.3 L766.7,702.6 L769.2,702.3 L771.1,700.6 L773.3,699.5 L775.7,699.0 L777.9,697.8 L780.4,697.1 L782.7,696.1 L784.8,694.7 L787.1,693.6 L789.2,692.2 L790.2,689.6 L792.0,687.6 L793.9,685.7 L796.0,684.0 L798.4,684.1 L800.4,682.7 L802.8,682.8 L804.8,681.2 L807.1,680.9 L809.5,681.4 L811.4,680.1 L813.8,680.0 L816.0,679.1 L818.0,678.2 L820.0,677.0 L821.9,675.5 L824.2,674.9 L826.3,673.7 L828.4,672.6 L830.2,670.9 L833.1,671.3 L834.8,669.5 L837.3,669.5 L839.3,671.7 L841.6,672.2 L844.5,670.9 L846.6,672.5 L848.6,671.2 L851.1,670.8 L853.3,669.9 L854.9,667.7 L857.0,666.6 L859.3,665.5 L861.7,664.8 L864.6,665.8 L866.6,663.6 L869.3,663.8 L871.7,663.0 L873.9,662.1 L876.1,662.9 L878.4,663.8 L880.6,661.9 L882.8,663.3 L885.0,662.5 L887.3,663.3 L889.5,662.8 L891.7,661.7 L893.9,662.2 L896.1,663.2 L898.3,662.4 L900.6,661.6 L902.8,661.7 L905.0,662.9 L907.2,662.9 L909.4,662.7 L911.6,662.5 L913.8,663.1 L916.0,663.6 L918.2,663.3 L920.4,664.6 L922.7,662.9 L924.8,664.7 L927.1,665.0 L929.4,663.6 L931.5,665.5 L933.7,665.2 L935.9,665.7 L938.2,665.0 L940.4,664.7 L942.6,665.0 L944.8,665.2 L947.0,666.7 L949.2,666.0 L951.5,665.7 L953.7,666.0 L955.9,665.8 L958.2,665.4 L960.3,666.6 L962.9,666.2 L965.1,668.3 L967.7,667.6 L969.9,669.5 L972.7,668.5 L975.0,669.5 L977.3,669.6 L979.3,670.8 L981.6,670.8 L983.7,671.8 L985.4,673.7 L987.6,674.2 L990.0,674.0 L992.3,675.2 L994.8,675.3 L997.1,676.4 L999.5,676.9 L1002.1,676.6 L1004.6,677.0 L1006.6,678.4 L1009.5,678.0 L1011.1,680.4 L1013.6,680.8 L1015.5,682.3 L1018.0,682.8 L1019.7,680.5 L1020.5,677.7 L1022.4,675.5 L1023.7,677.7 L1022.0,680.3 L1024.1,682.5 L1023.6,684.9 L1023.8,687.3 L1026.2,686.4 L1028.6,685.8 L1031.2,686.2 L1033.5,685.2 L1034.1,687.6 L1036.7,688.4 L1037.4,690.6 L1039.4,691.9 L1040.4,693.9 L1041.7,695.7 L1043.3,697.2 L1045.1,698.6 L1046.5,700.3 L1047.3,702.5 L1048.9,704.7 L1048.6,707.7 L1050.4,709.8 L1052.0,711.9 L1052.5,714.6 L1052.5,717.5 L1053.2,720.1 L1055.2,722.4 L1056.0,725.0 L1057.3,727.2 L1057.7,729.7 L1058.4,732.0 L1058.4,734.5 L1058.6,737.0 L1060.7,738.7 L1061.7,741.1 L1063.0,743.3 L1063.8,745.8 L1063.6,748.1 L1062.9,750.4 L1063.3,752.7 L1064.0,755.0 L1064.0,757.3 L1063.7,759.6 L1064.1,762.0 L1064.2,764.3 L1064.8,766.6 L1064.3,768.9 L1062.8,771.2 L1063.8,773.5 L1065.7,775.4 L1066.1,778.1 L1067.2,780.4 L1066.9,782.6 L1066.4,784.8 L1067.8,787.0 L1067.7,789.3 L1067.8,791.5 L1067.4,793.7 L1067.3,795.9 L1066.2,798.1 L1066.4,800.3 L1066.4,802.6 L1068.3,804.8 L1068.2,807.0 L1066.7,809.2 L1066.3,811.4 L1067.3,813.6 L1067.0,815.9 L1068.3,818.1 L1067.4,820.3 L1066.3,822.5 L1066.5,824.7 L1066.4,826.9 L1066.2,829.2 L1067.8,831.4 L1068.1,833.6 L1067.2,835.8 L1068.6,838.0 L1068.6,840.7 L1068.9,843.2 L1069.1,845.8 L1070.7,848.0 L1070.3,850.3 L1070.5,852.6 L1070.3,854.9 L1071.0,857.2 L1070.9,859.5 L1072.1,861.8 L1070.5,864.2 L1071.8,866.4 L1070.3,868.8 L1071.0,871.1 L1071.8,873.4 L1072.2,875.7 L1072.0,878.0 L1071.2,880.3 L1071.6,882.6 L1072.3,885.1 L1074.6,886.8 L1075.0,889.5 L1076.1,891.7 L1075.3,894.0 L1075.3,896.3 L1075.9,898.5 L1076.5,900.7 L1075.8,903.0 L1077.3,905.2 L1076.8,907.5 L1076.6,909.7 L1076.7,912.0 L1077.6,914.6 L1079.7,916.1 L1081.6,917.8 L1082.7,915.5 L1082.0,913.0 L1081.7,910.6 L1081.9,908.2 L1083.7,906.0 L1083.4,903.6 L1082.7,901.1 L1082.3,898.7 L1083.6,896.4 L1083.8,894.0 L1084.3,891.7 L1083.9,889.4 L1083.7,887.1 L1084.8,884.8 L1085.5,882.6 L1084.1,880.2 L1083.8,877.8 L1084.6,875.6 L1084.9,873.3 L1085.7,871.0 L1084.8,868.7 L1086.2,866.4 L1086.2,864.1 L1085.9,861.8 L1086.0,859.5 L1087.1,861.5 L1085.9,864.0 L1087.8,865.9 L1087.1,868.3 L1088.9,870.2 L1089.3,872.3 L1089.2,874.6 L1088.8,877.0 L1090.0,879.2 L1088.7,881.7 L1089.9,884.0 L1090.7,886.2 L1090.8,888.6 L1090.6,891.0 L1090.2,893.3 L1089.7,895.7 L1091.7,897.9 L1091.3,900.3 L1091.9,902.6 L1091.4,905.0 L1090.7,907.5 L1092.8,909.6 L1093.3,911.9 L1093.5,914.3 L1093.1,916.7 L1092.3,919.2 L1092.6,921.5 L1093.2,923.8 L1092.9,926.2 L1093.4,928.6 L1094.6,930.8 L1095.0,933.0 L1095.3,935.3 L1093.6,937.5 L1094.1,939.8 L1095.6,942.0 L1094.2,944.3 L1094.9,946.5 L1094.9,948.8 L1095.0,951.0 L1095.3,953.2 L1095.7,955.5 L1095.1,957.7 L1094.9,960.0 L1093.6,962.2 L1095.4,964.5 L1093.6,966.7 L1095.2,969.0 L1094.9,971.2 L1093.9,973.4 L1093.9,975.7 L1094.7,977.9 L1095.6,980.2 L1094.7,982.4 L1094.9,984.7 L1093.7,986.9 L1095.3,989.2 L1094.6,991.4 L1095.4,993.8 L1094.7,996.5 L1097.0,998.6 L1096.6,1001.2 L1096.2,1003.8 L1096.8,1006.3 L1097.8,1008.6 L1098.9,1010.8 L1098.9,1013.1 L1098.9,1015.3 L1097.1,1017.6 L1098.6,1019.8 L1097.5,1022.1 L1097.2,1024.3 L1098.5,1026.6 L1098.7,1028.8 L1097.3,1031.1 L1098.1,1033.3 L1098.9,1035.5 L1097.9,1037.8 L1098.8,1040.0 L1099.0,1042.3 L1099.6,1044.5 L1098.0,1046.8 L1097.7,1049.0 L1098.4,1051.3 L1097.7,1053.5 L1099.8,1055.7 L1099.4,1058.0 L1098.9,1060.3 L1097.9,1062.5 L1098.0,1064.8 L1099.0,1067.0 L1100.3,1069.1 L1101.6,1071.1 L1102.2,1073.5 L1102.4,1075.8 L1102.3,1078.1 L1101.4,1080.4 L1103.1,1082.6 L1101.8,1084.9 L1102.0,1087.2 L1101.9,1089.5 L1102.0,1091.7 L1102.4,1094.0 L1103.1,1096.3 L1103.2,1098.6 L1103.1,1100.8 L1102.3,1103.1 L1103.9,1105.4 L1103.7,1107.7 L1102.5,1110.0 L1103.7,1112.2 L1104.1,1114.5 L1103.2,1116.8 L1104.7,1118.7 L1104.2,1121.1 L1105.2,1123.2 L1104.4,1125.7 L1105.1,1127.8 L1106.5,1129.7 L1108.3,1127.9 L1107.6,1125.2 L1108.0,1122.9 L1109.7,1121.0 L1108.8,1118.7 L1109.7,1116.4 L1110.2,1114.1 L1109.6,1111.8 L1109.1,1109.5 L1109.5,1107.2 L1110.0,1104.9 L1110.1,1102.7 L1110.2,1100.4 L1110.5,1098.1 L1110.1,1095.8 L1108.9,1093.5 L1110.4,1091.2 L1109.2,1088.9 L1109.8,1086.6 L1109.7,1084.3 L1110.9,1082.0 L1113.0,1080.3 L1114.0,1077.8 L1113.3,1075.5 L1113.4,1073.3 L1113.4,1071.0 L1113.2,1068.7 L1114.8,1066.5 L1114.2,1064.2 L1113.6,1062.0 L1113.8,1059.7 L1115.1,1057.4 L1114.0,1055.2 L1113.4,1052.9 L1114.7,1050.6 L1114.3,1048.4 L1115.1,1046.1 L1113.1,1043.8 L1113.9,1041.6 L1114.7,1039.3 L1114.7,1037.1 L1114.9,1034.8 L1113.0,1032.5 L1113.5,1030.3 L1114.0,1028.0 L1114.4,1025.5 L1115.6,1023.4 L1117.3,1021.6 L1118.3,1019.4 L1117.5,1017.1 L1118.2,1014.9 L1117.0,1012.7 L1118.1,1010.4 L1117.2,1008.2 L1116.8,1006.0 L1117.9,1003.7 L1118.3,1001.5 L1116.4,999.2 L1117.5,997.0 L1117.6,994.8 L1116.7,992.5 L1117.0,990.3 L1116.5,988.1 L1116.6,985.8 L1116.8,983.6 L1117.5,981.4 L1117.6,979.1 L1116.6,976.9 L1116.2,974.6 L1116.9,972.4 L1117.7,970.2 L1116.6,967.9 L1116.9,965.7 L1116.6,963.5 L1117.9,961.2 L1117.3,959.0 L1118.5,956.9 L1118.6,954.2 L1119.7,952.1 L1121.6,950.3 L1121.4,948.1 L1121.7,945.8 L1121.9,943.6 L1120.7,941.3 L1120.9,939.1 L1122.0,936.9 L1121.4,934.6 L1121.1,932.4 L1121.2,930.1 L1122.6,927.9 L1121.2,925.7 L1121.7,923.4 L1121.3,921.2 L1121.4,919.0 L1122.4,916.7 L1122.7,914.5 L1121.3,912.2 L1120.9,910.0 L1122.1,907.8 L1120.9,905.5 L1120.5,903.3 L1122.5,901.0 L1121.4,898.8 L1122.3,896.6 L1121.4,894.3 L1122.4,892.1 L1121.5,889.8 L1121.6,887.6 L1121.6,885.2 L1121.9,883.0 L1123.7,881.2 L1124.5,879.1 L1124.9,876.8 L1125.9,874.5 L1124.3,872.1 L1125.6,869.9 L1125.2,867.5 L1125.7,865.2 L1125.0,862.8 L1125.5,860.5 L1126.1,858.2 L1127.2,856.0 L1125.5,853.5 L1126.5,851.3 L1127.4,849.0 L1127.9,846.7 L1127.0,844.3 L1126.5,842.0 L1126.5,839.7 L1128.5,837.6 L1128.7,835.4 L1127.8,833.0 L1127.1,830.7 L1129.1,828.6 L1128.1,826.3 L1129.4,824.1 L1129.0,821.8 L1129.6,819.6 L1128.3,817.2 L1129.9,815.1 L1128.8,812.8 L1129.4,810.5 L1130.5,808.4 L1130.6,806.1 L1130.1,803.8 L1130.9,806.0 L1130.9,808.2 L1130.7,810.5 L1130.5,812.8 L1130.9,815.0 L1131.6,817.2 L1131.5,819.5 L1130.5,821.7 L1130.3,824.0 L1132.3,826.1 L1131.2,828.4 L1130.9,830.7 L1132.6,832.9 L1131.0,835.2 L1132.7,837.4 L1131.7,839.7 L1131.9,841.9 L1131.9,844.1 L1132.7,846.3 L1132.4,848.6 L1133.1,850.7 L1133.3,853.0 L1134.2,855.1 L1134.3,857.4 L1135.3,859.4 L1135.7,861.6 L1135.9,863.8 L1136.8,866.1 L1135.6,868.3 L1135.9,870.6 L1136.5,872.8 L1135.3,875.0 L1135.3,877.3 L1136.1,879.5 L1136.7,881.7 L1136.1,884.0 L1137.0,886.2 L1137.0,888.4 L1136.3,890.7 L1137.1,892.9 L1136.4,895.2 L1136.3,897.4 L1137.4,899.6 L1136.1,901.9 L1137.3,904.1 L1135.9,906.4 L1135.9,908.6 L1136.5,910.8 L1137.6,913.1 L1136.6,915.3 L1136.9,917.5 L1135.7,919.8 L1137.5,922.0 L1136.0,924.3 L1136.8,926.5 L1136.3,928.9 L1137.4,931.0 L1137.7,933.2 L1139.6,935.0 L1138.4,937.6 L1140.0,939.5 L1140.0,941.7 L1139.0,944.0 L1139.1,946.2 L1140.7,948.4 L1139.4,950.6 L1139.1,952.9 L1141.0,955.1 L1140.3,957.3 L1139.4,959.6 L1140.8,961.8 L1139.1,964.0 L1140.5,966.2 L1139.3,968.5 L1140.8,970.7 L1140.0,972.9 L1139.1,975.2 L1140.6,977.4 L1140.5,979.6 L1140.0,981.9 L1140.4,984.1 L1141.0,986.3 L1140.7,988.5 L1140.7,990.8 L1139.0,993.0 L1139.6,995.2 L1139.1,997.5 L1140.7,999.7 L1139.4,1001.9 L1140.8,1004.1 L1139.9,1006.4 L1140.0,1008.6 L1140.8,1010.9 L1142.4,1012.8 L1142.5,1015.5 L1144.3,1017.3 L1144.3,1019.6 L1144.5,1022.0 L1144.0,1024.4 L1145.8,1026.6 L1144.1,1029.0 L1145.0,1031.3 L1145.7,1033.6 L1145.0,1036.0 L1146.3,1038.2 L1144.9,1040.7 L1146.0,1043.0 L1146.6,1045.2 L1146.5,1047.6 L1148.1,1045.7 L1148.5,1043.2 L1149.1,1040.8 L1150.8,1039.0 L1151.3,1036.7 L1149.8,1034.4 L1151.5,1032.1 L1150.3,1029.8 L1151.1,1027.4 L1151.9,1025.1 L1151.0,1022.8 L1151.2,1020.5 L1150.4,1018.2 L1149.7,1015.9 L1149.8,1013.6 L1150.0,1011.2 L1151.1,1008.9 L1150.7,1006.6 L1150.8,1004.3 L1150.8,1002.0 L1152.9,1000.4 L1152.9,997.4 L1155.0,995.7 L1154.4,993.4 L1155.3,991.1 L1153.9,988.9 L1153.9,986.6 L1154.7,984.3 L1154.1,982.0 L1154.7,979.7 L1154.4,977.5 L1155.2,975.2 L1155.2,972.9 L1154.3,970.6 L1155.3,968.4 L1154.9,966.1 L1154.2,963.8 L1156.0,961.5 L1154.4,959.2 L1154.2,957.0 L1154.1,954.7 L1155.0,952.4 L1156.4,950.4 L1158.0,948.5 L1158.9,946.2 L1159.5,943.8 L1159.3,941.6 L1159.0,939.3 L1158.4,937.1 L1159.8,934.9 L1159.6,932.6 L1159.2,930.4 L1159.8,928.2 L1159.4,925.9 L1160.5,923.7 L1160.0,921.5 L1158.9,919.3 L1160.4,917.0 L1158.5,914.8 L1159.6,912.6 L1159.3,910.3 L1158.9,908.1 L1158.5,905.9 L1160.1,903.6 L1158.4,901.4 L1159.6,899.2 L1160.5,896.9 L1158.7,894.7 L1158.8,892.5 L1159.7,890.2 L1159.5,888.0 L1159.8,885.8 L1160.2,883.6 L1158.8,881.3 L1159.1,879.1 L1159.1,876.9 L1158.5,874.6 L1159.5,872.4 L1161.2,870.6 L1161.8,868.3 L1162.5,866.1 L1161.9,863.4 L1163.8,861.6 L1164.7,859.2 L1164.6,856.8 L1164.1,854.4 L1164.8,852.0 L1164.3,849.6 L1163.9,847.2 L1163.8,844.8 L1164.2,842.4 L1164.9,840.0 L1163.9,837.8 L1164.5,835.5 L1165.4,833.3 L1165.3,831.1 L1165.6,828.8 L1165.3,826.6 L1164.3,824.4 L1164.9,822.1 L1164.6,819.9 L1165.4,817.7 L1164.8,815.4 L1164.2,813.2 L1165.0,811.0 L1165.7,808.7 L1164.1,806.5 L1165.5,804.3 L1163.6,802.0 L1164.1,799.8 L1164.1,797.6 L1165.2,795.3 L1165.6,793.1 L1165.1,790.9 L1164.2,788.6 L1165.4,786.4 L1164.2,784.2 L1164.0,781.9 L1165.4,779.7 L1164.8,777.5 L1164.9,775.2 L1164.9,773.0 L1165.5,770.8 L1164.4,768.5 L1165.2,766.3 L1164.9,764.1 L1165.2,761.8 L1164.3,759.6 L1164.9,757.4 L1164.5,755.1 L1164.0,752.9 L1163.7,750.7 L1164.6,748.4 L1163.4,746.2 L1165.2,744.0 L1163.5,741.7 L1164.3,739.5 L1164.2,736.9 L1165.3,734.8 L1167.9,733.4 L1167.6,730.7 L1168.1,728.4 L1169.7,726.5 L1170.9,728.7 L1170.9,731.0 L1169.6,733.3 L1169.9,735.6 L1169.8,737.9 L1169.9,740.2 L1171.5,742.4 L1170.4,744.7 L1171.0,746.9 L1170.2,749.3 L1170.3,751.5 L1170.2,753.8 L1172.2,756.0 L1170.5,758.4 L1170.5,760.7 L1170.6,762.9 L1172.5,765.1 L1172.4,767.4 L1171.9,769.7 L1173.3,771.7 L1174.0,773.8 L1172.8,776.4 L1173.4,778.5 L1174.3,780.6 L1174.4,782.8 L1175.4,784.9 L1176.2,787.0 L1176.8,789.2 L1177.3,791.4 L1177.4,793.7 L1176.1,796.0 L1177.4,798.1 L1177.2,800.4 L1177.1,802.6 L1178.1,804.8 L1177.7,807.1 L1177.7,809.3 L1176.9,811.6 L1177.8,813.8 L1178.0,816.0 L1176.7,818.3 L1177.8,820.5 L1177.1,822.8 L1177.7,825.0 L1179.1,827.1 L1178.4,829.4 L1178.5,831.6 L1177.8,833.9 L1178.9,836.1 L1178.2,838.4 L1178.7,840.6 L1179.5,842.8 L1178.2,845.1 L1180.0,847.2 L1178.5,849.5 L1180.0,851.7 L1180.5,853.9 L1179.5,856.2 L1180.1,858.6 L1178.7,860.9 L1178.2,863.2 L1180.2,865.6 L1179.1,867.9 L1179.0,870.3 L1178.2,872.6 L1179.5,875.0 L1178.7,877.3 L1178.9,879.6 L1177.8,881.9 L1178.4,884.3 L1178.6,882.0 L1180.8,880.3 L1180.1,877.7 L1180.7,875.5 L1182.4,873.7 L1182.7,871.4 L1182.7,869.1 L1181.9,866.8 L1183.2,864.6 L1182.0,862.3 L1183.6,860.1 L1183.4,857.8 L1183.7,855.5 L1183.4,853.3 L1182.9,851.0 L1183.0,848.7 L1183.0,846.5 L1184.2,844.2 L1182.5,841.9 L1184.3,839.7 L1182.4,837.4 L1182.9,835.1 L1183.1,832.9 L1184.5,830.6 L1183.7,828.3 L1183.5,826.1 L1183.8,823.8 L1185.6,822.0 L1185.4,819.2 L1187.0,817.3 L1186.9,815.0 L1187.0,812.8 L1187.4,810.5 L1187.4,808.3 L1187.1,806.0 L1186.4,803.8 L1186.3,801.5 L1185.9,799.3 L1187.4,797.0 L1187.0,794.8 L1187.1,792.5 L1185.8,790.3 L1186.3,788.0 L1187.0,785.8 L1186.6,783.5 L1185.5,781.3 L1186.2,779.0 L1187.1,776.7 L1185.7,774.5 L1185.5,772.3 L1185.7,770.0 L1186.6,767.7 L1186.8,765.5 L1185.3,763.3 L1186.0,761.0 L1186.8,758.4 L1188.4,756.4 L1190.3,754.6 L1189.9,752.3 L1190.3,750.0 L1189.6,747.7 L1189.9,745.3 L1189.6,743.0 L1191.3,740.7 L1190.8,738.4 L1189.4,736.1 L1191.3,733.8 L1189.4,731.5 L1190.0,729.1 L1191.4,726.8 L1190.9,724.5 L1190.3,722.2 L1191.6,720.2 L1191.9,717.8 L1192.3,715.5 L1194.0,713.7 L1194.6,711.4 L1196.1,713.3 L1196.5,715.5 L1196.8,717.8 L1198.1,719.7 L1197.8,722.2 L1198.6,724.3 L1198.3,726.7 L1199.0,728.8 L1200.0,730.9 L1200.3,733.1 L1201.2,735.2 L1202.4,737.1 L1202.2,739.5 L1202.0,741.8 L1202.4,744.1 L1201.7,746.4 L1201.3,748.7 L1202.4,750.9 L1202.0,753.2 L1201.7,755.5 L1202.4,757.8 L1202.8,760.1 L1201.7,762.4 L1201.4,764.7 L1201.6,767.0 L1201.8,769.2 L1201.4,771.5 L1201.8,773.8 L1201.9,776.1 L1202.2,778.4 L1202.4,780.6 L1202.8,782.9 L1202.2,785.2 L1203.4,787.4 L1202.8,789.6 L1202.1,791.9 L1202.3,794.2 L1202.6,796.4 L1203.5,798.6 L1203.2,800.9 L1203.2,803.1 L1202.9,805.4 L1203.5,807.6 L1203.0,809.9 L1202.5,812.2 L1204.2,814.3 L1203.3,816.6 L1203.1,818.9 L1204.0,821.1 L1203.9,823.4 L1202.9,825.6 L1205.1,827.8 L1204.0,830.1 L1205.0,832.3 L1204.3,834.6 L1205.1,832.4 L1205.7,830.2 L1205.0,827.9 L1204.3,825.5 L1205.5,823.4 L1205.7,821.1 L1206.3,818.9 L1206.1,816.6 L1206.5,814.4 L1207.2,812.2 L1206.7,809.9 L1206.7,807.6 L1208.1,805.5 L1206.7,803.1 L1207.9,800.9 L1207.5,798.6 L1208.5,796.4 L1207.4,794.1 L1209.5,792.0 L1208.3,789.6 L1207.9,787.3 L1208.6,785.1 L1209.0,782.9 L1208.4,780.5 L1209.7,778.4 L1210.0,780.6 L1210.1,782.9 L1209.6,785.1 L1210.5,787.3 L1210.8,789.5 L1211.0,791.8 L1209.9,794.1 L1209.6,796.3 L1210.6,798.5 L1211.4,800.7 L1210.2,803.0 L1211.3,805.2 L1211.8,807.4 L1212.1,809.6 L1210.7,811.9 L1210.8,814.2 L1211.3,816.4 L1211.7,818.6 L1211.7,820.8 L1212.5,823.0 L1211.0,825.4 L1212.4,827.5 L1211.9,829.8 L1211.6,832.0 L1211.8,834.3 L1212.6,836.5 L1213.1,838.7 L1212.7,840.9 L1213.7,843.1 L1213.0,845.4 L1213.8,843.2 L1212.9,841.0 L1214.1,838.8 L1212.9,836.5 L1213.2,834.3 L1213.1,832.1 L1213.6,829.9 L1213.1,827.7 L1212.8,825.4 L1214.5,823.3 L1213.6,821.0 L1213.7,818.8 L1213.9,816.6 L1214.4,814.4 L1214.4,812.2 L1214.9,810.0 L1215.1,807.8 L1214.5,805.5 L1215.9,803.4 L1215.8,801.2 L1214.2,798.9 L1216.0,796.7 L1216.2,794.5 L1216.1,792.3 L1214.8,790.0 L1216.4,787.9 L1216.1,785.6 L1214.8,783.4 L1214.9,781.1 L1217.1,779.0 L1216.5,776.8 L1215.7,774.5 L1215.5,772.3 L1215.7,770.1 L1216.0,767.9 L1217.3,765.7 L1216.5,763.5 L1216.1,761.2 L1217.9,759.1 L1217.7,756.9 L1216.5,754.6 L1217.3,752.4 L1220.1,750.9 L1221.6,748.1 L1222.7,750.4 L1223.8,752.8 L1225.3,754.8 L1227.0,756.8 L1229.3,758.4 L1231.9,758.9 L1234.6,759.0 L1234.4,761.7 L1236.3,763.9 L1235.8,766.6 L1236.7,769.0 L1236.7,771.6 L1237.8,774.0 L1238.2,776.4 L1237.4,778.8 L1238.3,781.2 L1239.2,783.5 L1239.5,785.8 L1239.9,788.2 L1239.4,790.7 L1240.5,793.0 L1239.9,795.4 L1240.0,797.8 L1241.1,800.1 L1240.6,802.5 L1240.9,804.9 L1241.1,807.3 L1240.7,809.7 L1242.8,811.8 L1241.3,814.4 L1242.4,816.7 L1242.5,819.1 L1242.5,821.5 L1243.2,823.8 L1244.5,825.8 L1247.0,826.5 L1248.6,828.1 L1248.9,830.6 L1247.9,833.1 L1250.0,835.5 L1248.9,838.0 L1249.1,840.5 L1250.6,842.9 L1249.7,845.4 L1250.0,847.6 L1250.4,849.8 L1250.4,852.1 L1252.3,854.0 L1251.4,856.5 L1253.0,858.4 L1255.9,858.4 L1258.7,858.4 L1261.6,858.4 L1263.3,860.7 L1266.6,860.8 L1267.8,863.7 L1270.3,864.9 L1272.6,863.5 L1274.4,861.4 L1277.3,860.7 L1279.0,858.4 L1280.1,860.5 L1280.7,862.7 L1281.5,864.9 L1281.8,867.3 L1283.2,869.2 L1284.1,871.4 L1283.8,873.7 L1284.1,876.0 L1284.0,878.3 L1283.6,880.6 L1285.0,882.8 L1284.1,885.2 L1285.3,887.4 L1285.3,889.7 L1286.0,891.9 L1285.7,894.2 L1284.9,896.6 L1285.9,898.8 L1285.8,901.1 L1287.0,903.3 L1287.3,905.5 L1287.6,907.8 L1287.2,910.1 L1287.6,912.4 L1288.2,910.1 L1288.9,907.8 L1287.6,905.3 L1289.4,903.2 L1290.1,900.9 L1289.7,898.5 L1288.9,896.0 L1289.8,893.8 L1289.5,891.3 L1290.2,889.1 L1292.2,887.0 L1291.8,884.6 L1291.9,882.2 L1292.4,879.9 L1292.9,877.6 L1293.3,875.3 L1292.8,872.9 L1293.0,870.6 L1293.1,868.2 L1293.5,865.9 L1293.4,863.6 L1293.8,861.3 L1292.9,858.8 L1294.0,856.6 L1293.7,854.2 L1294.0,851.9 L1294.7,849.7 L1293.3,847.3 L1293.6,845.1 L1293.4,842.8 L1295.1,840.6 L1295.5,838.4 L1295.0,836.1 L1294.5,833.8 L1295.6,831.6 L1295.6,829.3 L1295.2,827.1 L1294.7,824.8 L1294.9,822.5 L1295.2,820.3 L1295.1,818.0 L1295.4,815.7 L1296.0,813.5 L1296.8,811.3 L1294.9,808.9 L1296.1,806.7 L1295.1,804.4 L1296.2,802.2 L1296.1,799.8 L1298.3,798.1 L1298.5,795.8 L1299.9,793.8 L1299.7,791.3 L1300.5,789.2 L1301.8,791.4 L1301.2,793.7 L1300.9,796.0 L1300.4,798.4 L1300.5,800.6 L1301.8,802.8 L1302.2,805.0 L1303.0,807.3 L1302.1,809.6 L1303.2,811.8 L1303.6,814.1 L1304.1,816.3 L1304.3,818.6 L1303.0,821.0 L1304.5,823.1 L1302.8,825.6 L1305.0,827.6 L1303.5,830.1 L1305.3,832.2 L1305.7,834.4 L1304.9,836.8 L1305.7,834.5 L1305.0,832.1 L1306.3,829.9 L1305.4,827.4 L1305.5,825.1 L1307.3,823.0 L1307.5,820.6 L1308.1,818.3 L1308.2,816.0 L1307.1,813.5 L1308.6,811.3 L1309.0,809.0 L1308.8,806.6 L1309.2,804.3 L1310.6,802.1 L1309.5,799.4 L1311.5,797.3 L1311.4,794.9 L1310.3,792.2 L1310.7,789.8 L1312.5,787.7 L1313.3,785.4 L1312.2,782.7 L1313.5,780.5 L1313.1,778.2 L1314.0,775.9 L1312.8,773.7 L1314.3,771.4 L1313.5,769.1 L1312.5,766.8 L1313.2,764.6 L1313.7,762.3 L1313.4,760.0 L1313.9,757.7 L1312.7,755.4 L1314.2,753.2 L1313.2,750.9 L1313.8,748.6 L1313.8,746.3 L1313.3,744.1 L1313.2,741.8 L1313.5,739.5 L1315.1,737.6 L1316.5,735.6 L1317.3,733.3 L1317.8,730.8 L1317.8,728.4 L1317.0,726.2 L1316.3,723.8 L1318.1,721.4 L1317.4,719.1 L1317.5,716.7 L1316.2,714.4 L1316.6,712.0 L1317.3,709.6 L1316.8,707.3 L1316.1,705.0 L1315.7,702.7 L1316.6,700.3 L1318.0,698.3 L1320.1,696.7 L1320.4,693.9 L1322.2,692.1 L1323.3,689.9 L1324.3,687.6 L1324.6,690.1 L1325.8,692.2 L1328.0,693.8 L1328.6,696.2 L1330.4,698.0 L1330.5,700.4 L1330.9,702.6 L1331.3,704.9 L1331.6,707.3 L1332.1,709.5 L1334.6,711.0 L1333.7,713.8 L1335.1,715.7 L1336.1,713.5 L1336.5,711.2 L1336.2,708.8 L1335.9,706.3 L1337.4,704.2 L1337.7,701.9 L1337.7,699.5 L1338.5,697.3 L1337.6,694.8 L1337.3,692.4 L1338.7,690.2 L1339.5,687.9 L1338.5,685.4 L1339.5,683.2 L1341.6,681.4 L1343.5,679.5 L1343.9,676.4 L1346.0,674.6 L1348.0,676.3 L1350.0,677.9 L1352.4,679.0 L1354.0,677.4 L1355.4,675.5 L1357.1,674.1 L1359.2,673.0 L1360.8,671.1 L1362.0,668.9 L1362.5,666.4 L1362.8,663.8 L1365.4,662.4 L1366.4,660.2 L1367.0,657.7 L1367.6,655.4 L1369.3,653.8 L1371.0,652.2 L1372.1,650.2 L1372.5,647.8 L1373.5,645.8 L1374.6,643.8 L1376.0,645.7 L1378.2,647.0 L1379.7,648.8 L1381.3,650.5 L1381.9,653.1 L1383.8,654.6 L1384.6,652.4 L1386.0,650.5 L1386.7,648.3 L1387.9,646.4 L1388.2,643.9 L1389.0,641.8 L1391.9,640.6 L1391.7,637.9 L1393.0,636.0 L1394.7,637.6 L1394.6,640.1 L1395.2,642.3 L1397.4,643.7 L1397.5,646.1 L1398.9,647.9 L1399.5,650.0 L1401.4,651.6 L1402.3,653.6 L1402.3,656.0 L1404.4,654.4 L1405.3,652.2 L1405.7,649.7 L1407.0,647.7 L1407.6,645.2 L1409.7,643.7 L1410.2,641.2 L1411.5,639.2 L1411.3,641.8 L1412.4,644.0 L1413.1,646.3 L1413.5,648.7 L1415.8,650.5 L1416.0,653.0 L1416.4,650.4 L1418.0,648.6 L1419.3,646.5 L1420.4,644.4 L1421.7,642.3 L1423.8,640.8 L1424.8,643.0 L1425.4,645.4 L1427.3,647.1 L1427.5,649.7 L1428.8,651.8 L1431.5,653.0 L1431.7,655.7 L1433.0,657.7 L1433.7,655.6 L1434.1,653.3 L1436.7,652.1 L1436.2,649.5 L1437.8,647.8 L1438.9,645.8 L1440.4,644.1 L1440.8,641.9 L1441.2,639.6 L1442.3,637.7 L1444.2,638.8 L1446.4,639.5 L1447.3,642.2 L1449.1,643.5 L1451.5,643.8 L1453.7,644.5 L1455.8,645.4 L1457.4,647.1 L1459.1,648.5 L1460.8,650.0 L1460.5,652.4 L1461.1,654.5 L1461.8,656.6 L1464.1,658.2 L1463.1,660.8 L1463.8,662.9 L1464.5,665.0 L1465.4,667.0 L1466.0,669.8 L1469.3,671.0 L1470.6,673.3 L1471.5,676.0 L1471.2,678.3 L1471.0,680.5 L1471.8,682.7 L1472.8,684.8 L1472.4,687.1 L1472.2,689.3 L1473.0,691.5 L1473.1,689.0 L1474.5,687.1 L1475.3,684.9 L1476.0,682.6 L1477.7,680.8 L1477.9,678.5 L1477.4,676.2 L1477.8,673.9 L1477.8,671.7 L1479.2,669.5 L1478.0,667.1 L1479.7,665.0 L1478.8,662.6 L1478.7,660.3 L1480.9,658.2 L1479.5,655.8 L1481.3,653.7 L1481.4,651.4 L1481.7,649.2 L1480.3,646.8 L1481.2,644.6 L1481.5,642.3 L1482.8,644.5 L1481.3,647.1 L1481.9,649.4 L1482.8,651.6 L1483.6,653.8 L1484.2,656.1 L1483.5,658.6 L1484.7,660.8 L1484.7,663.1 L1485.4,665.4 L1487.9,666.3 L1489.8,668.0 L1491.5,670.0 L1493.8,671.3 L1494.2,674.1 L1496.1,675.8 L1497.7,677.7 L1498.9,679.7 L1497.7,682.2 L1499.4,684.1 L1499.4,686.4 L1500.4,688.4 L1500.5,690.7 L1499.6,693.1 L1501.1,695.0 L1501.9,697.1 L1501.6,699.4 L1502.3,701.6 L1502.3,703.8 L1503.6,701.7 L1502.4,699.0 L1504.7,697.1 L1503.2,694.4 L1505.5,692.5 L1505.5,690.1 L1505.0,687.6 L1506.0,685.4 L1506.1,683.0 L1507.0,680.8 L1508.9,682.6 L1510.5,684.5 L1511.5,687.0 L1512.3,684.8 L1514.5,683.3 L1515.6,681.3 L1516.5,679.2 L1515.9,676.3 L1517.7,674.6 L1518.2,672.3 L1520.3,670.6 L1519.6,667.7 L1521.8,666.2 L1522.3,663.8 L1523.2,661.5 L1525.8,660.3 L1525.2,657.1 L1528.0,656.0 L1528.4,653.4 L1530.0,651.5 L1532.3,652.1 L1534.3,653.1 L1535.1,655.8 L1537.3,656.5 L1539.2,657.7 L1539.7,655.4 L1541.3,653.7 L1543.3,652.2 L1543.1,649.5 L1544.9,647.8 L1545.2,645.4 L1547.0,643.8 L1547.7,641.6 L1550.0,640.5 L1551.2,638.7 L1551.5,636.2 L1552.6,634.3 L1554.6,633.0 L1556.1,631.1 L1558.6,631.0 L1560.4,629.6 L1562.3,628.5 L1563.5,626.3 L1564.9,624.2 L1567.1,622.9 L1568.5,620.8 L1569.8,618.8 L1570.9,616.7 L1571.4,614.4 L1571.5,611.9 L1573.0,610.0 L1573.0,607.2 L1575.4,605.3 L1575.6,602.5 L1577.2,600.3 L1577.7,597.7 L1578.4,594.8 L1580.8,593.0 L1583.0,590.0" fill="none" stroke="#000" stroke-width="8.0" stroke-linejoin="round" stroke-linecap="round"/>

<rect x="205.3" y="25.3" width="1380.1" height="1120.7" fill="none" stroke="#000" stroke-width="7.6" stroke-linejoin="round"/>
<g stroke="#000" stroke-width="6.5" stroke-linecap="round"><line x1="205.50" y1="1146" x2="205.50" y2="1167"/><line x1="301.32" y1="1146" x2="301.32" y2="1157"/><line x1="397.15" y1="1146" x2="397.15" y2="1167"/><line x1="492.97" y1="1146" x2="492.97" y2="1157"/><line x1="588.80" y1="1146" x2="588.80" y2="1167"/><line x1="684.62" y1="1146" x2="684.62" y2="1157"/><line x1="780.45" y1="1146" x2="780.45" y2="1167"/><line x1="876.27" y1="1146" x2="876.27" y2="1157"/><line x1="972.10" y1="1146" x2="972.10" y2="1167"/><line x1="1067.92" y1="1146" x2="1067.92" y2="1157"/><line x1="1163.75" y1="1146" x2="1163.75" y2="1167"/><line x1="1259.57" y1="1146" x2="1259.57" y2="1157"/><line x1="1355.40" y1="1146" x2="1355.40" y2="1167"/><line x1="1451.22" y1="1146" x2="1451.22" y2="1157"/><line x1="1547.05" y1="1146" x2="1547.05" y2="1167"/></g>
<g font-family="Liberation Serif, 'Times New Roman', serif" fill="#000" style="font-kerning:none">
<text transform="translate(567.29,1351.80) scale(0.9622,1)" font-size="83.77" font-weight="bold">Wavenumber</text>
<text transform="translate(1054.52,1349.93) scale(0.9582,1)" font-size="51.78" font-weight="bold">(</text>
<text transform="translate(1071.58,1351.80) scale(0.9309,1)" font-size="86.81" font-weight="bold">cm</text>
<text transform="translate(1170.62,1322.86) scale(1.1620,1)" font-size="47.00" font-weight="bold">-</text>
<text transform="translate(1185.97,1322.60) scale(0.9483,1)" font-size="47.88" font-weight="bold">1</text>
<text transform="translate(1208.73,1350.11) scale(1.0279,1)" font-size="50.89" font-weight="bold">)</text>
<text transform="translate(679.34,405.30) scale(0.8913,1)" font-size="55.15" font-weight="bold">CDs/PNIPAM</text>
<text transform="translate(728.39,609.20) scale(0.8625,1)" font-size="55.91" font-weight="bold">G-CDs</text>
<text transform="translate(709.71,775.30) scale(0.9499,1)" font-size="51.97" font-weight="bold">PNIPAM</text>
<text transform="translate(437.79,477.00) scale(0.9398,1)" font-size="37.54" font-weight="bold">N-H</text>
<text transform="translate(560.73,482.10) scale(0.9717,1)" font-size="36.52" font-weight="bold">C-H</text>
<text transform="translate(1002.21,425.00) scale(1.0151,1)" font-size="35.30" font-weight="bold">C=O</text>
<text transform="translate(383.18,720.00) scale(0.9759,1)" font-size="37.27" font-weight="bold">O-H</text>
<text transform="translate(941.90,645.80) scale(0.9049,1)" font-size="38.79" font-weight="bold">-CONH-</text>
<text transform="translate(1203.66,704.90) scale(1.0119,1)" font-size="34.39" font-weight="bold">C-H</text>
<text transform="translate(1299.23,634.50) scale(0.9840,1)" font-size="36.06" font-weight="bold">C-O/C-O-C</text>
<text transform="translate(432.50,996.30) scale(0.9764,1)" font-size="35.85" font-weight="bold">N-H</text>
<text transform="translate(563.99,1056.20) scale(0.9928,1)" font-size="36.36" font-weight="bold">C-H</text>
<text transform="translate(997.60,943.50) scale(0.9925,1)" font-size="36.36" font-weight="bold">C=O</text>
<text transform="translate(1021.01,1109.70) scale(0.9869,1)" font-size="36.36" font-weight="bold">C=O</text>
<text transform="translate(1167.58,1074.60) scale(0.9720,1)" font-size="36.92" font-weight="bold">N-H</text>
<text transform="translate(1179.81,929.70) scale(1.0075,1)" font-size="35.61" font-weight="bold">CH</text>
<text transform="translate(1230.54,950.00) scale(1.0855,1)" font-size="33.64" font-weight="bold">3</text>
<text transform="translate(205.50,1249.8) scale(0.9385,1)" font-size="87.27" text-anchor="middle">4000</text>
<text transform="translate(397.15,1249.8) scale(0.9385,1)" font-size="87.27" text-anchor="middle">3500</text>
<text transform="translate(588.80,1249.8) scale(0.9385,1)" font-size="87.27" text-anchor="middle">3000</text>
<text transform="translate(780.45,1249.8) scale(0.9385,1)" font-size="87.27" text-anchor="middle">2500</text>
<text transform="translate(972.10,1249.8) scale(0.9385,1)" font-size="87.27" text-anchor="middle">2000</text>
<text transform="translate(1163.75,1249.8) scale(0.9385,1)" font-size="87.27" text-anchor="middle">1500</text>
<text transform="translate(1355.40,1249.8) scale(0.9385,1)" font-size="87.27" text-anchor="middle">1000</text>
<text transform="translate(1547.05,1249.8) scale(0.9385,1)" font-size="87.27" text-anchor="middle">500</text>
<text transform="translate(89.2,924.1) rotate(-90)" font-size="87.47" font-weight="bold">Transmittance (%)</text>
</g>
</svg></body></html>
